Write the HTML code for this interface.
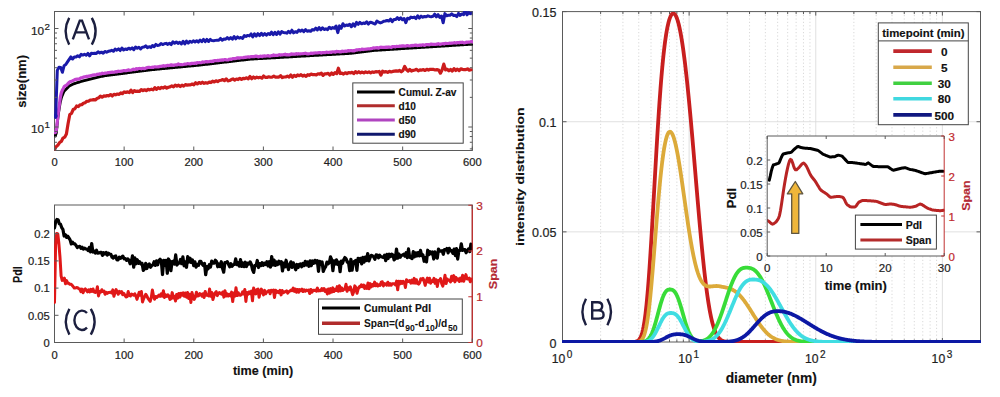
<!DOCTYPE html>
<html><head><meta charset="utf-8"><style>
html,body{margin:0;padding:0;background:#fff;}
svg{display:block;font-family:"Liberation Sans", sans-serif;}
</style></head><body>
<svg width="1000" height="397" viewBox="0 0 1000 397">
<rect width="1000" height="397" fill="#fff"/>
<defs><clipPath id="clipA"><rect x="54" y="11" width="419" height="140"/></clipPath><clipPath id="clipC"><rect x="54" y="204" width="419" height="139"/></clipPath><clipPath id="clipB"><rect x="562" y="12" width="419" height="331"/></clipPath><clipPath id="clipI"><rect x="767" y="135.5" width="177.5" height="121"/></clipPath></defs>
<rect x="54.50" y="11.50" width="417.80" height="139.00" fill="none" stroke="#5a5a5a" stroke-width="1"/>
<g clip-path="url(#clipA)">
<polyline points="55.30,136.00 56.30,133.00 57.30,123.00 58.30,114.66 59.30,107.98 60.30,102.10 61.30,98.10 62.30,95.35 63.30,92.91 64.30,90.90 65.30,89.90 66.30,88.90 67.30,87.90 68.30,86.90 69.30,86.05 70.30,85.55 71.30,85.05 72.30,84.55 73.30,84.05 74.30,83.61 75.30,83.30 76.30,82.99 77.30,82.68 78.30,82.37 79.30,82.06 80.30,81.75 81.30,81.44 82.30,81.13 83.30,80.82 84.30,80.52 85.30,80.27 86.30,80.02 87.30,79.77 88.30,79.52 89.30,79.27 90.30,79.02 91.30,78.77 92.30,78.52 93.30,78.27 94.30,78.03 95.30,77.81 96.30,77.59 97.30,77.37 98.30,77.15 99.30,76.93 100.30,76.71 101.30,76.49 102.30,76.27 103.30,76.05 104.30,75.86 105.30,75.73 106.30,75.60 107.30,75.47 108.30,75.34 109.30,75.21 110.30,75.08 111.30,74.95 112.30,74.82 113.30,74.69 114.30,74.56 115.30,74.43 116.30,74.30 117.30,74.17 118.30,74.03 119.30,73.90 120.30,73.77 121.30,73.64 122.30,73.51 123.30,73.38 124.30,73.25 125.30,73.12 126.30,72.99 127.30,72.86 128.30,72.73 129.30,72.60 130.30,72.47 131.30,72.34 132.30,72.21 133.30,72.08 134.30,71.95 135.30,71.82 136.30,71.69 137.30,71.56 138.30,71.43 139.30,71.30 140.30,71.17 141.30,71.03 142.30,70.90 143.30,70.77 144.30,70.64 145.30,70.51 146.30,70.38 147.30,70.25 148.30,70.12 149.30,69.99 150.30,69.87 151.30,69.78 152.30,69.68 153.30,69.58 154.30,69.49 155.30,69.39 156.30,69.30 157.30,69.20 158.30,69.10 159.30,69.01 160.30,68.91 161.30,68.82 162.30,68.72 163.30,68.62 164.30,68.53 165.30,68.43 166.30,68.34 167.30,68.24 168.30,68.14 169.30,68.05 170.30,67.95 171.30,67.86 172.30,67.76 173.30,67.66 174.30,67.57 175.30,67.47 176.30,67.38 177.30,67.28 178.30,67.18 179.30,67.09 180.30,66.99 181.30,66.90 182.30,66.80 183.30,66.70 184.30,66.61 185.30,66.51 186.30,66.42 187.30,66.32 188.30,66.22 189.30,66.13 190.30,66.03 191.30,65.94 192.30,65.84 193.30,65.74 194.30,65.65 195.30,65.55 196.30,65.46 197.30,65.36 198.30,65.26 199.30,65.17 200.30,65.06 201.30,64.95 202.30,64.83 203.30,64.71 204.30,64.59 205.30,64.47 206.30,64.36 207.30,64.24 208.30,64.12 209.30,64.00 210.30,63.88 211.30,63.77 212.30,63.65 213.30,63.53 214.30,63.41 215.30,63.29 216.30,63.18 217.30,63.06 218.30,62.94 219.30,62.82 220.30,62.70 221.30,62.59 222.30,62.47 223.30,62.35 224.30,62.23 225.30,62.11 226.30,62.00 227.30,61.88 228.30,61.76 229.30,61.64 230.30,61.52 231.30,61.41 232.30,61.29 233.30,61.17 234.30,61.05 235.30,60.93 236.30,60.82 237.30,60.70 238.30,60.58 239.30,60.46 240.30,60.34 241.30,60.23 242.30,60.11 243.30,59.99 244.30,59.87 245.30,59.75 246.30,59.64 247.30,59.52 248.30,59.40 249.30,59.28 250.30,59.18 251.30,59.12 252.30,59.07 253.30,59.01 254.30,58.95 255.30,58.89 256.30,58.83 257.30,58.78 258.30,58.72 259.30,58.66 260.30,58.60 261.30,58.54 262.30,58.49 263.30,58.43 264.30,58.37 265.30,58.31 266.30,58.25 267.30,58.20 268.30,58.14 269.30,58.08 270.30,58.02 271.30,57.96 272.30,57.91 273.30,57.85 274.30,57.79 275.30,57.73 276.30,57.67 277.30,57.62 278.30,57.56 279.30,57.50 280.30,57.44 281.30,57.38 282.30,57.33 283.30,57.27 284.30,57.21 285.30,57.15 286.30,57.09 287.30,57.04 288.30,56.98 289.30,56.92 290.30,56.86 291.30,56.80 292.30,56.75 293.30,56.69 294.30,56.63 295.30,56.57 296.30,56.51 297.30,56.46 298.30,56.40 299.30,56.34 300.30,56.28 301.30,56.22 302.30,56.17 303.30,56.11 304.30,56.05 305.30,55.99 306.30,55.93 307.30,55.88 308.30,55.82 309.30,55.76 310.30,55.70 311.30,55.64 312.30,55.59 313.30,55.53 314.30,55.47 315.30,55.41 316.30,55.35 317.30,55.30 318.30,55.24 319.30,55.18 320.30,55.12 321.30,55.06 322.30,55.01 323.30,54.95 324.30,54.89 325.30,54.83 326.30,54.77 327.30,54.72 328.30,54.66 329.30,54.60 330.30,54.54 331.30,54.48 332.30,54.43 333.30,54.37 334.30,54.31 335.30,54.25 336.30,54.19 337.30,54.14 338.30,54.08 339.30,54.02 340.30,53.96 341.30,53.90 342.30,53.85 343.30,53.79 344.30,53.73 345.30,53.67 346.30,53.61 347.30,53.56 348.30,53.50 349.30,53.44 350.30,53.36 351.30,53.24 352.30,53.12 353.30,53.00 354.30,52.88 355.30,52.76 356.30,52.64 357.30,52.52 358.30,52.40 359.30,52.28 360.30,52.16 361.30,52.04 362.30,51.92 363.30,51.80 364.30,51.68 365.30,51.56 366.30,51.44 367.30,51.32 368.30,51.20 369.30,51.08 370.30,50.96 371.30,50.84 372.30,50.72 373.30,50.60 374.30,50.48 375.30,50.38 376.30,50.32 377.30,50.25 378.30,50.19 379.30,50.13 380.30,50.06 381.30,50.00 382.30,49.93 383.30,49.87 384.30,49.81 385.30,49.74 386.30,49.68 387.30,49.62 388.30,49.55 389.30,49.49 390.30,49.43 391.30,49.36 392.30,49.30 393.30,49.23 394.30,49.17 395.30,49.11 396.30,49.04 397.30,48.98 398.30,48.92 399.30,48.85 400.30,48.79 401.30,48.72 402.30,48.66 403.30,48.60 404.30,48.53 405.30,48.47 406.30,48.41 407.30,48.34 408.30,48.28 409.30,48.21 410.30,48.15 411.30,48.09 412.30,48.02 413.30,47.96 414.30,47.90 415.30,47.83 416.30,47.77 417.30,47.70 418.30,47.64 419.30,47.58 420.30,47.51 421.30,47.45 422.30,47.39 423.30,47.32 424.30,47.26 425.30,47.19 426.30,47.13 427.30,47.07 428.30,47.00 429.30,46.94 430.30,46.88 431.30,46.81 432.30,46.75 433.30,46.69 434.30,46.62 435.30,46.56 436.30,46.49 437.30,46.43 438.30,46.37 439.30,46.30 440.30,46.24 441.30,46.18 442.30,46.11 443.30,46.05 444.30,45.98 445.30,45.92 446.30,45.86 447.30,45.79 448.30,45.73 449.30,45.67 450.30,45.60 451.30,45.54 452.30,45.47 453.30,45.41 454.30,45.35 455.30,45.28 456.30,45.22 457.30,45.16 458.30,45.09 459.30,45.03 460.30,44.96 461.30,44.90 462.30,44.84 463.30,44.77 464.30,44.71 465.30,44.65 466.30,44.58 467.30,44.52 468.30,44.45 469.30,44.39 470.30,44.33 471.30,44.26 472.30,44.20" fill="none" stroke="#000000" stroke-width="2.8" stroke-linejoin="round" stroke-linecap="round" />
<polyline points="54.50,149.07 56.20,146.69 57.90,145.07 59.60,142.53 61.30,141.40 63.00,138.08 64.70,137.15 66.40,133.94 68.10,123.53 69.80,114.55 71.50,113.37 73.20,109.52 74.90,108.74 76.60,105.99 78.30,106.54 80.00,104.86 81.70,104.73 83.40,103.21 85.10,102.66 86.80,101.32 88.50,101.23 90.20,100.04 91.90,100.02 93.60,99.59 95.30,99.91 97.00,98.46 98.70,97.86 100.40,96.09 102.10,97.24 103.80,95.94 105.50,96.27 107.20,95.48 108.90,95.83 110.60,94.57 112.30,95.97 114.00,94.25 115.70,94.81 117.40,94.04 119.10,94.40 120.80,92.86 122.50,93.70 124.20,91.95 125.90,92.38 127.60,91.91 129.30,92.54 131.00,90.11 132.70,92.59 134.40,90.56 136.10,91.49 137.80,91.15 139.50,91.51 141.20,89.57 142.90,90.70 144.60,89.78 146.30,90.70 148.00,89.27 149.70,89.87 151.40,89.19 153.10,89.89 154.80,87.59 156.50,89.33 158.20,87.73 159.90,88.64 161.60,87.39 163.30,88.03 165.00,86.78 166.70,88.12 168.40,87.24 170.10,86.87 171.80,85.95 173.50,86.84 175.20,85.17 176.90,86.21 178.60,85.18 180.30,86.52 182.00,85.18 183.70,86.16 185.40,84.62 187.10,85.15 188.80,84.82 190.50,84.84 192.20,84.01 193.90,84.85 195.60,82.74 197.30,83.97 199.00,82.57 200.70,83.37 202.40,82.23 204.10,83.34 205.80,82.66 207.50,83.18 209.20,82.16 210.90,82.55 212.60,81.15 214.30,82.00 216.00,80.81 217.70,81.55 219.40,80.50 221.10,80.23 222.80,79.56 224.50,80.67 226.20,78.86 227.90,80.82 229.60,80.54 231.30,79.57 233.00,78.95 234.70,80.03 236.40,79.00 238.10,79.54 239.80,78.27 241.50,79.44 243.20,78.35 244.90,78.59 246.60,77.82 248.30,78.80 250.00,76.54 251.70,78.69 253.40,77.02 255.10,78.21 256.80,77.21 258.50,77.80 260.20,77.30 261.90,78.21 263.60,75.97 265.30,77.37 267.00,77.43 268.70,76.77 270.40,77.25 272.10,77.09 273.80,76.19 275.50,77.19 277.20,76.98 278.90,77.03 280.60,75.69 282.30,77.59 284.00,77.00 285.70,76.95 287.40,76.11 289.10,77.00 290.80,74.96 292.50,77.29 294.20,75.39 295.90,76.46 297.60,74.99 299.30,75.75 301.00,74.65 302.70,76.03 304.40,75.23 306.10,76.34 307.80,74.71 309.50,75.30 311.20,74.02 312.90,74.64 314.60,74.48 316.30,75.00 318.00,73.80 319.70,74.23 321.40,73.20 323.10,75.42 324.80,73.73 326.50,73.79 328.20,73.32 329.90,74.99 331.60,73.03 333.30,74.40 335.00,72.59 336.70,73.58 338.40,68.23 340.10,73.58 341.80,73.02 343.50,74.02 345.20,72.77 346.90,73.70 348.60,72.56 350.30,72.93 352.00,72.27 353.70,73.62 355.40,71.68 357.10,72.82 358.80,71.73 360.50,72.89 362.20,72.05 363.90,72.95 365.60,71.84 367.30,72.65 369.00,71.87 370.70,72.83 372.40,71.95 374.10,72.33 375.80,71.63 377.50,71.80 379.20,71.46 380.90,75.16 382.60,71.12 384.30,72.06 386.00,71.59 387.70,72.44 389.40,71.32 391.10,71.93 392.80,71.44 394.50,71.09 396.20,70.83 397.90,71.25 399.60,70.40 401.30,71.79 403.00,70.44 404.70,66.42 406.40,69.54 408.10,71.11 409.80,69.40 411.50,71.03 413.20,70.36 414.90,70.01 416.60,69.29 418.30,70.91 420.00,69.96 421.70,70.03 423.40,69.59 425.10,70.47 426.80,69.34 428.50,70.02 430.20,69.25 431.90,69.35 433.60,69.44 435.30,70.01 437.00,69.66 438.70,69.99 440.40,73.18 442.10,69.90 443.80,64.13 445.50,69.86 447.20,69.27 448.90,70.83 450.60,69.39 452.30,70.99 454.00,68.59 455.70,70.49 457.40,69.06 459.10,70.63 460.80,68.82 462.50,69.39 464.20,69.67 465.90,69.59 467.60,68.86 469.30,70.13 471.00,69.78" fill="none" stroke="#cc1c1c" stroke-width="3.2" stroke-linejoin="round" stroke-linecap="round" />
<polyline points="55.30,132.65 56.30,130.21 57.30,121.65 58.30,112.01 59.30,105.24 60.30,97.66 61.30,92.86 62.30,90.33 63.30,88.53 64.30,86.55 65.30,85.76 66.30,85.43 67.30,84.37 68.30,83.14 69.30,82.23 70.30,81.48 71.30,81.35 72.30,80.94 73.30,80.43 74.30,79.99 75.30,79.43 76.30,79.39 77.30,79.10 78.30,79.13 79.30,78.98 80.30,78.18 81.30,77.72 82.30,77.59 83.30,77.16 84.30,76.85 85.30,76.83 86.30,76.38 87.30,76.59 88.30,76.21 89.30,76.10 90.30,75.79 91.30,75.46 92.30,75.20 93.30,75.18 94.30,74.91 95.30,74.94 96.30,74.71 97.30,74.20 98.30,74.39 99.30,73.86 100.30,73.87 101.30,73.79 102.30,73.17 103.30,73.54 104.30,73.40 105.30,73.19 106.30,72.99 107.30,72.88 108.30,72.59 109.30,72.64 110.30,72.44 111.30,72.47 112.30,72.02 113.30,72.25 114.30,72.09 115.30,71.89 116.30,71.69 117.30,71.80 118.30,71.12 119.30,71.52 120.30,71.33 121.30,71.21 122.30,71.11 123.30,70.72 124.30,70.69 125.30,70.78 126.30,70.60 127.30,70.41 128.30,69.85 129.30,70.23 130.30,70.26 131.30,70.09 132.30,69.77 133.30,69.19 134.30,69.68 135.30,69.28 136.30,68.55 137.30,69.15 138.30,68.55 139.30,68.47 140.30,68.51 141.30,68.85 142.30,68.31 143.30,68.34 144.30,68.58 145.30,68.41 146.30,67.86 147.30,67.69 148.30,67.31 149.30,67.32 150.30,67.48 151.30,67.37 152.30,67.21 153.30,67.33 154.30,66.79 155.30,66.88 156.30,66.98 157.30,66.85 158.30,66.87 159.30,66.61 160.30,66.33 161.30,66.41 162.30,65.97 163.30,65.71 164.30,66.17 165.30,65.92 166.30,65.91 167.30,65.31 168.30,65.55 169.30,65.40 170.30,65.24 171.30,64.79 172.30,65.18 173.30,65.39 174.30,65.16 175.30,64.82 176.30,64.87 177.30,64.97 178.30,63.99 179.30,64.56 180.30,64.63 181.30,64.57 182.30,64.72 183.30,64.49 184.30,64.19 185.30,64.09 186.30,64.11 187.30,63.68 188.30,63.71 189.30,63.85 190.30,64.02 191.30,63.40 192.30,63.33 193.30,63.29 194.30,63.48 195.30,63.04 196.30,63.32 197.30,62.62 198.30,62.72 199.30,62.62 200.30,62.76 201.30,62.71 202.30,61.96 203.30,61.99 204.30,62.19 205.30,61.82 206.30,61.49 207.30,62.01 208.30,61.76 209.30,61.64 210.30,61.29 211.30,61.55 212.30,61.11 213.30,61.33 214.30,60.71 215.30,60.61 216.30,60.76 217.30,60.42 218.30,60.65 219.30,60.43 220.30,60.01 221.30,60.15 222.30,59.93 223.30,60.13 224.30,59.62 225.30,59.56 226.30,59.85 227.30,59.99 228.30,59.82 229.30,59.22 230.30,59.14 231.30,59.35 232.30,58.82 233.30,58.49 234.30,58.65 235.30,58.62 236.30,58.18 237.30,57.86 238.30,57.80 239.30,58.21 240.30,57.74 241.30,57.77 242.30,57.75 243.30,57.73 244.30,57.38 245.30,57.47 246.30,57.01 247.30,57.02 248.30,56.74 249.30,57.16 250.30,56.78 251.30,56.54 252.30,56.58 253.30,56.55 254.30,56.73 255.30,56.09 256.30,56.18 257.30,56.28 258.30,56.95 259.30,56.50 260.30,56.17 261.30,56.32 262.30,56.60 263.30,55.97 264.30,55.88 265.30,56.22 266.30,55.98 267.30,55.96 268.30,55.61 269.30,56.16 270.30,56.05 271.30,55.71 272.30,55.68 273.30,54.94 274.30,55.55 275.30,55.28 276.30,55.38 277.30,55.39 278.30,55.07 279.30,54.68 280.30,55.13 281.30,54.80 282.30,54.84 283.30,54.72 284.30,54.73 285.30,54.18 286.30,55.00 287.30,54.70 288.30,54.86 289.30,55.02 290.30,54.47 291.30,53.95 292.30,54.12 293.30,53.99 294.30,54.11 295.30,54.19 296.30,53.61 297.30,54.14 298.30,53.62 299.30,54.01 300.30,53.86 301.30,53.75 302.30,53.75 303.30,53.57 304.30,53.50 305.30,53.17 306.30,53.53 307.30,53.94 308.30,53.91 309.30,53.69 310.30,53.48 311.30,53.08 312.30,53.55 313.30,53.11 314.30,53.05 315.30,52.94 316.30,52.98 317.30,52.79 318.30,52.82 319.30,52.51 320.30,52.63 321.30,53.23 322.30,52.59 323.30,52.49 324.30,52.62 325.30,52.61 326.30,52.10 327.30,52.26 328.30,52.49 329.30,52.27 330.30,52.17 331.30,52.47 332.30,51.86 333.30,51.99 334.30,51.78 335.30,52.23 336.30,51.31 337.30,51.57 338.30,51.55 339.30,51.79 340.30,51.71 341.30,51.85 342.30,51.05 343.30,51.58 344.30,51.26 345.30,51.11 346.30,51.35 347.30,50.93 348.30,50.58 349.30,50.95 350.30,50.59 351.30,50.68 352.30,50.82 353.30,50.68 354.30,50.88 355.30,50.31 356.30,49.86 357.30,49.93 358.30,49.77 359.30,49.58 360.30,49.87 361.30,49.48 362.30,49.03 363.30,49.58 364.30,49.26 365.30,49.25 366.30,49.07 367.30,49.08 368.30,48.81 369.30,48.99 370.30,48.67 371.30,48.54 372.30,48.43 373.30,47.84 374.30,48.04 375.30,47.92 376.30,47.97 377.30,47.51 378.30,48.20 379.30,47.75 380.30,47.36 381.30,47.17 382.30,47.46 383.30,47.45 384.30,47.23 385.30,47.37 386.30,47.12 387.30,47.35 388.30,46.97 389.30,47.08 390.30,47.27 391.30,47.60 392.30,46.65 393.30,46.72 394.30,46.56 395.30,46.90 396.30,46.36 397.30,46.46 398.30,46.51 399.30,46.21 400.30,46.15 401.30,46.21 402.30,45.74 403.30,45.84 404.30,46.03 405.30,46.11 406.30,45.96 407.30,45.50 408.30,45.76 409.30,46.01 410.30,45.89 411.30,45.67 412.30,45.40 413.30,45.72 414.30,45.35 415.30,45.14 416.30,45.17 417.30,45.67 418.30,45.30 419.30,45.47 420.30,44.99 421.30,45.28 422.30,44.84 423.30,44.88 424.30,45.48 425.30,44.99 426.30,44.61 427.30,44.65 428.30,44.69 429.30,44.84 430.30,44.35 431.30,43.98 432.30,44.28 433.30,44.29 434.30,44.25 435.30,44.49 436.30,44.17 437.30,44.23 438.30,43.69 439.30,44.12 440.30,44.36 441.30,43.97 442.30,43.78 443.30,43.69 444.30,44.03 445.30,43.29 446.30,43.43 447.30,43.51 448.30,43.52 449.30,43.16 450.30,43.28 451.30,43.07 452.30,43.10 453.30,42.98 454.30,42.66 455.30,42.88 456.30,43.04 457.30,42.51 458.30,42.63 459.30,42.79 460.30,42.30 461.30,42.55 462.30,42.17 463.30,42.66 464.30,42.89 465.30,42.75 466.30,42.13 467.30,42.30 468.30,42.09 469.30,42.02 470.30,42.31 471.30,41.53 472.30,42.06" fill="none" stroke="#c444d0" stroke-width="3.2" stroke-linejoin="round" stroke-linecap="round" />
<polyline points="55.60,117.45 57.30,70.42 59.00,67.15 60.70,67.41 62.40,72.32 64.10,65.70 65.80,64.57 67.50,61.89 69.20,59.35 70.90,56.91 72.60,58.97 74.30,56.94 76.00,56.99 77.70,55.76 79.40,56.81 81.10,54.32 82.80,55.10 84.50,54.22 86.20,55.25 87.90,53.45 89.60,55.86 91.30,53.26 93.00,53.47 94.70,53.24 96.40,53.45 98.10,51.84 99.80,52.93 101.50,52.14 103.20,53.19 104.90,51.45 106.60,52.26 108.30,51.33 110.00,51.07 111.70,50.24 113.40,51.31 115.10,49.03 116.80,50.15 118.50,48.81 120.20,50.54 121.90,48.00 123.60,50.05 125.30,48.98 127.00,49.44 128.70,48.16 130.40,49.15 132.10,47.91 133.80,49.66 135.50,47.08 137.20,48.24 138.90,47.18 140.60,48.96 142.30,47.19 144.00,47.09 145.70,45.88 147.40,47.62 149.10,46.70 150.80,47.46 152.50,45.46 154.20,46.71 155.90,44.39 157.60,45.53 159.30,45.12 161.00,43.56 162.70,44.53 164.40,43.75 166.10,43.36 167.80,44.39 169.50,43.19 171.20,44.55 172.90,41.84 174.60,43.23 176.30,41.94 178.00,43.39 179.70,42.32 181.40,43.98 183.10,41.36 184.80,43.91 186.50,41.15 188.20,43.10 189.90,41.32 191.60,42.29 193.30,40.86 195.00,42.03 196.70,40.75 198.40,42.12 200.10,40.08 201.80,41.63 203.50,39.40 205.20,41.69 206.90,39.39 208.60,41.48 210.30,39.42 212.00,40.62 213.70,40.66 215.40,40.38 217.10,40.18 218.80,40.30 220.50,38.46 222.20,40.19 223.90,39.01 225.60,39.29 227.30,37.62 229.00,39.11 230.70,37.66 232.40,39.15 234.10,36.57 235.80,38.84 237.50,36.93 239.20,38.12 240.90,37.48 242.60,38.35 244.30,35.64 246.00,36.44 247.70,35.40 249.40,35.90 251.10,33.91 252.80,36.89 254.50,33.82 256.20,36.07 257.90,33.63 259.60,35.59 261.30,33.29 263.00,35.28 264.70,33.65 266.40,35.19 268.10,33.49 269.80,34.50 271.50,32.19 273.20,34.76 274.90,32.32 276.60,34.46 278.30,31.71 280.00,34.28 281.70,31.57 283.40,32.46 285.10,32.68 286.80,33.18 288.50,31.33 290.20,32.79 291.90,30.20 293.60,32.86 295.30,31.66 297.00,32.40 298.70,30.03 300.40,31.17 302.10,29.97 303.80,31.62 305.50,29.59 307.20,31.32 308.90,30.74 310.60,31.33 312.30,29.63 314.00,30.06 315.70,28.13 317.40,29.92 319.10,27.56 320.80,29.76 322.50,27.81 324.20,29.52 325.90,28.76 327.60,29.67 329.30,27.23 331.00,28.68 332.70,27.59 334.40,28.26 336.10,26.02 337.80,32.61 339.50,25.85 341.20,28.35 342.90,23.76 344.60,26.05 346.30,25.10 348.00,25.40 349.70,24.42 351.40,26.77 353.10,23.81 354.80,26.18 356.50,22.43 358.20,24.29 359.90,22.36 361.60,23.84 363.30,23.06 365.00,23.55 366.70,21.88 368.40,24.11 370.10,22.22 371.80,22.59 373.50,23.35 375.20,24.06 376.90,21.05 378.60,22.20 380.30,22.88 382.00,22.31 383.70,21.26 385.40,20.98 387.10,20.45 388.80,21.04 390.50,19.20 392.20,21.70 393.90,19.48 395.60,19.58 397.30,17.66 399.00,19.44 400.70,17.81 402.40,19.73 404.10,18.48 405.80,22.63 407.50,18.27 409.20,18.88 410.90,17.13 412.60,17.69 414.30,17.13 416.00,18.54 417.70,15.85 419.40,18.08 421.10,16.12 422.80,17.27 424.50,16.42 426.20,16.77 427.90,15.85 429.60,16.45 431.30,16.69 433.00,16.32 434.70,14.10 436.40,16.84 438.10,14.69 439.80,17.37 441.50,16.02 443.20,22.79 444.90,13.63 446.60,15.79 448.30,15.29 450.00,15.22 451.70,13.91 453.40,15.45 455.10,15.32 456.80,16.60 458.50,13.34 460.20,15.45 461.90,13.97 463.60,14.70 465.30,9.06 467.00,14.92 468.70,12.58 470.40,13.70 472.10,13.02" fill="none" stroke="#1a1aaa" stroke-width="3.0" stroke-linejoin="round" stroke-linecap="round" />
<circle cx="55.6" cy="116" r="2.1" fill="#1a1aaa"/>
</g>
<line x1="54.50" y1="150.50" x2="54.50" y2="146.50" stroke="#5a5a5a" stroke-width="1" />
<line x1="54.50" y1="11.50" x2="54.50" y2="15.50" stroke="#5a5a5a" stroke-width="1" />
<text x="54.50" y="162.20" font-size="11.2" text-anchor="middle" font-weight="normal" fill="#1e1e1e" stroke="#1e1e1e" stroke-width="0.22" dominant-baseline="central" >0</text>
<line x1="124.13" y1="150.50" x2="124.13" y2="146.50" stroke="#5a5a5a" stroke-width="1" />
<line x1="124.13" y1="11.50" x2="124.13" y2="15.50" stroke="#5a5a5a" stroke-width="1" />
<text x="124.13" y="162.20" font-size="11.2" text-anchor="middle" font-weight="normal" fill="#1e1e1e" stroke="#1e1e1e" stroke-width="0.22" dominant-baseline="central" >100</text>
<line x1="193.77" y1="150.50" x2="193.77" y2="146.50" stroke="#5a5a5a" stroke-width="1" />
<line x1="193.77" y1="11.50" x2="193.77" y2="15.50" stroke="#5a5a5a" stroke-width="1" />
<text x="193.77" y="162.20" font-size="11.2" text-anchor="middle" font-weight="normal" fill="#1e1e1e" stroke="#1e1e1e" stroke-width="0.22" dominant-baseline="central" >200</text>
<line x1="263.40" y1="150.50" x2="263.40" y2="146.50" stroke="#5a5a5a" stroke-width="1" />
<line x1="263.40" y1="11.50" x2="263.40" y2="15.50" stroke="#5a5a5a" stroke-width="1" />
<text x="263.40" y="162.20" font-size="11.2" text-anchor="middle" font-weight="normal" fill="#1e1e1e" stroke="#1e1e1e" stroke-width="0.22" dominant-baseline="central" >300</text>
<line x1="333.03" y1="150.50" x2="333.03" y2="146.50" stroke="#5a5a5a" stroke-width="1" />
<line x1="333.03" y1="11.50" x2="333.03" y2="15.50" stroke="#5a5a5a" stroke-width="1" />
<text x="333.03" y="162.20" font-size="11.2" text-anchor="middle" font-weight="normal" fill="#1e1e1e" stroke="#1e1e1e" stroke-width="0.22" dominant-baseline="central" >400</text>
<line x1="402.67" y1="150.50" x2="402.67" y2="146.50" stroke="#5a5a5a" stroke-width="1" />
<line x1="402.67" y1="11.50" x2="402.67" y2="15.50" stroke="#5a5a5a" stroke-width="1" />
<text x="402.67" y="162.20" font-size="11.2" text-anchor="middle" font-weight="normal" fill="#1e1e1e" stroke="#1e1e1e" stroke-width="0.22" dominant-baseline="central" >500</text>
<line x1="472.30" y1="150.50" x2="472.30" y2="146.50" stroke="#5a5a5a" stroke-width="1" />
<line x1="472.30" y1="11.50" x2="472.30" y2="15.50" stroke="#5a5a5a" stroke-width="1" />
<text x="472.30" y="162.20" font-size="11.2" text-anchor="middle" font-weight="normal" fill="#1e1e1e" stroke="#1e1e1e" stroke-width="0.22" dominant-baseline="central" >600</text>
<line x1="54.50" y1="127.00" x2="58.50" y2="127.00" stroke="#5a5a5a" stroke-width="1" />
<line x1="472.30" y1="127.00" x2="468.30" y2="127.00" stroke="#5a5a5a" stroke-width="1" />
<line x1="54.50" y1="28.50" x2="58.50" y2="28.50" stroke="#5a5a5a" stroke-width="1" />
<line x1="472.30" y1="28.50" x2="468.30" y2="28.50" stroke="#5a5a5a" stroke-width="1" />
<line x1="54.50" y1="148.85" x2="57.00" y2="148.85" stroke="#5a5a5a" stroke-width="1" />
<line x1="472.30" y1="148.85" x2="469.80" y2="148.85" stroke="#5a5a5a" stroke-width="1" />
<line x1="54.50" y1="142.26" x2="57.00" y2="142.26" stroke="#5a5a5a" stroke-width="1" />
<line x1="472.30" y1="142.26" x2="469.80" y2="142.26" stroke="#5a5a5a" stroke-width="1" />
<line x1="54.50" y1="136.55" x2="57.00" y2="136.55" stroke="#5a5a5a" stroke-width="1" />
<line x1="472.30" y1="136.55" x2="469.80" y2="136.55" stroke="#5a5a5a" stroke-width="1" />
<line x1="54.50" y1="131.51" x2="57.00" y2="131.51" stroke="#5a5a5a" stroke-width="1" />
<line x1="472.30" y1="131.51" x2="469.80" y2="131.51" stroke="#5a5a5a" stroke-width="1" />
<line x1="54.50" y1="97.35" x2="57.00" y2="97.35" stroke="#5a5a5a" stroke-width="1" />
<line x1="472.30" y1="97.35" x2="469.80" y2="97.35" stroke="#5a5a5a" stroke-width="1" />
<line x1="54.50" y1="80.00" x2="57.00" y2="80.00" stroke="#5a5a5a" stroke-width="1" />
<line x1="472.30" y1="80.00" x2="469.80" y2="80.00" stroke="#5a5a5a" stroke-width="1" />
<line x1="54.50" y1="67.70" x2="57.00" y2="67.70" stroke="#5a5a5a" stroke-width="1" />
<line x1="472.30" y1="67.70" x2="469.80" y2="67.70" stroke="#5a5a5a" stroke-width="1" />
<line x1="54.50" y1="58.15" x2="57.00" y2="58.15" stroke="#5a5a5a" stroke-width="1" />
<line x1="472.30" y1="58.15" x2="469.80" y2="58.15" stroke="#5a5a5a" stroke-width="1" />
<line x1="54.50" y1="50.35" x2="57.00" y2="50.35" stroke="#5a5a5a" stroke-width="1" />
<line x1="472.30" y1="50.35" x2="469.80" y2="50.35" stroke="#5a5a5a" stroke-width="1" />
<line x1="54.50" y1="43.76" x2="57.00" y2="43.76" stroke="#5a5a5a" stroke-width="1" />
<line x1="472.30" y1="43.76" x2="469.80" y2="43.76" stroke="#5a5a5a" stroke-width="1" />
<line x1="54.50" y1="38.05" x2="57.00" y2="38.05" stroke="#5a5a5a" stroke-width="1" />
<line x1="472.30" y1="38.05" x2="469.80" y2="38.05" stroke="#5a5a5a" stroke-width="1" />
<line x1="54.50" y1="33.01" x2="57.00" y2="33.01" stroke="#5a5a5a" stroke-width="1" />
<line x1="472.30" y1="33.01" x2="469.80" y2="33.01" stroke="#5a5a5a" stroke-width="1" />
<text x="44.20" y="30.60" font-size="11.8" text-anchor="end" font-weight="normal" fill="#1e1e1e" stroke="#1e1e1e" stroke-width="0.22" dominant-baseline="central" >10</text>
<text x="44.60" y="26.20" font-size="9.8" text-anchor="start" font-weight="normal" fill="#1e1e1e" stroke="#1e1e1e" stroke-width="0.22" dominant-baseline="central" >2</text>
<text x="44.20" y="129.00" font-size="11.8" text-anchor="end" font-weight="normal" fill="#1e1e1e" stroke="#1e1e1e" stroke-width="0.22" dominant-baseline="central" >10</text>
<text x="44.60" y="124.60" font-size="9.8" text-anchor="start" font-weight="normal" fill="#1e1e1e" stroke="#1e1e1e" stroke-width="0.22" dominant-baseline="central" >1</text>
<text x="21.40" y="81.40" font-size="13" text-anchor="middle" font-weight="bold" fill="#111" stroke="#111" stroke-width="0.15" dominant-baseline="central" transform="rotate(-90 21.40 81.40)" >size(nm)</text>
<path d="M69.2,17.9 Q62.0,31.2 69.2,44.6 M72.8,39.3 L79.8,20.6 L82.0,20.6 L89.0,39.3 M75.4,32.4 L86.4,32.4 M91.8,17.9 Q99.4,31.2 91.8,44.6" fill="none" stroke="#1c1f3f" stroke-width="2.4" stroke-linejoin="miter"/>
<rect x="352.80" y="82.90" width="110.40" height="60.30" fill="#fff" stroke="#444" stroke-width="1"/>
<line x1="357.00" y1="92.00" x2="394.80" y2="92.00" stroke="#000" stroke-width="3.0" />
<text x="398.60" y="92.30" font-size="10.1" text-anchor="start" font-weight="bold" fill="#111" stroke="#111" stroke-width="0.15" dominant-baseline="central" >Cumul. Z-av</text>
<line x1="357.00" y1="105.80" x2="394.80" y2="105.80" stroke="#b02c2c" stroke-width="3.0" />
<text x="398.60" y="106.10" font-size="10.1" text-anchor="start" font-weight="bold" fill="#111" stroke="#111" stroke-width="0.15" dominant-baseline="central" >d10</text>
<line x1="357.00" y1="119.90" x2="394.80" y2="119.90" stroke="#b044c0" stroke-width="3.0" />
<text x="398.60" y="120.20" font-size="10.1" text-anchor="start" font-weight="bold" fill="#111" stroke="#111" stroke-width="0.15" dominant-baseline="central" >d50</text>
<line x1="357.00" y1="134.20" x2="394.80" y2="134.20" stroke="#10186e" stroke-width="3.0" />
<text x="398.60" y="134.50" font-size="10.1" text-anchor="start" font-weight="bold" fill="#111" stroke="#111" stroke-width="0.15" dominant-baseline="central" >d90</text>
<rect x="54.50" y="205.00" width="417.80" height="137.50" fill="none" stroke="#5a5a5a" stroke-width="1"/>
<line x1="472.30" y1="205.00" x2="472.30" y2="342.50" stroke="#c03030" stroke-width="1" />
<g clip-path="url(#clipC)">
<polyline points="54.50,302.53 55.60,245.42 56.70,233.46 57.80,233.88 58.90,243.77 60.00,257.43 61.10,275.83 62.20,280.38 63.30,279.72 64.40,278.15 65.50,283.74 66.60,280.63 67.70,283.16 68.80,283.34 69.90,284.32 71.00,284.22 72.10,285.24 73.20,286.60 74.30,287.93 75.40,288.02 76.50,287.48 77.60,287.70 78.70,288.73 79.80,288.93 80.90,291.61 82.00,289.04 83.10,292.79 84.20,289.93 85.30,288.95 86.40,290.39 87.50,291.83 88.60,289.83 89.70,291.89 90.80,289.34 91.90,291.41 93.00,288.94 94.10,291.89 95.20,292.45 96.30,292.17 97.40,286.73 98.50,295.94 99.60,291.58 100.70,292.29 101.80,289.72 102.90,291.53 104.00,290.96 105.10,294.29 106.20,292.29 107.30,293.35 108.40,292.47 109.50,292.46 110.60,292.07 111.70,293.03 112.80,289.90 113.90,296.34 115.00,292.61 116.10,289.55 117.20,292.22 118.30,294.29 119.40,291.30 120.50,292.66 121.60,291.56 122.70,294.65 123.80,293.31 124.90,295.45 126.00,296.97 127.10,296.63 128.20,291.57 129.30,295.50 130.40,295.99 131.50,293.95 132.60,294.65 133.70,295.25 134.80,293.81 135.90,295.97 137.00,299.37 138.10,295.76 139.20,292.30 140.30,295.24 141.40,291.56 142.50,301.93 143.60,298.79 144.70,296.38 145.80,294.23 146.90,296.01 148.00,298.43 149.10,299.89 150.20,301.40 151.30,297.47 152.40,289.93 153.50,295.91 154.60,299.26 155.70,296.44 156.80,297.48 157.90,296.38 159.00,294.98 160.10,296.31 161.20,293.71 162.30,296.07 163.40,290.75 164.50,297.41 165.60,294.90 166.70,296.43 167.80,294.84 168.90,296.09 170.00,299.41 171.10,298.63 172.20,292.64 173.30,298.05 174.40,296.25 175.50,300.99 176.60,294.46 177.70,298.11 178.80,293.41 179.90,297.17 181.00,293.20 182.10,295.10 183.20,292.85 184.30,296.22 185.40,292.97 186.50,297.19 187.60,292.51 188.70,298.43 189.80,294.34 190.90,302.46 192.00,292.52 193.10,296.55 194.20,299.36 195.30,297.04 196.40,292.29 197.50,295.96 198.60,295.70 199.70,293.57 200.80,294.05 201.90,296.10 203.00,293.70 204.10,297.53 205.20,291.49 206.30,295.17 207.40,294.99 208.50,295.95 209.60,289.02 210.70,296.35 211.80,292.54 212.90,299.52 214.00,295.81 215.10,292.89 216.20,291.65 217.30,295.61 218.40,293.37 219.50,292.56 220.60,293.60 221.70,294.21 222.80,291.97 223.90,297.12 225.00,290.74 226.10,295.93 227.20,293.89 228.30,296.05 229.40,294.29 230.50,296.03 231.60,292.10 232.70,301.52 233.80,292.92 234.90,296.20 236.00,287.72 237.10,295.60 238.20,292.69 239.30,295.01 240.40,295.24 241.50,294.47 242.60,291.82 243.70,293.98 244.80,289.50 245.90,301.40 247.00,292.51 248.10,294.27 249.20,291.90 250.30,293.57 251.40,291.06 252.50,300.86 253.60,288.01 254.70,290.91 255.80,293.96 256.90,289.63 258.00,289.13 259.10,297.27 260.20,291.97 261.30,289.09 262.40,292.31 263.50,294.86 264.60,290.40 265.70,293.76 266.80,291.96 267.90,291.35 269.00,290.59 270.10,293.73 271.20,290.18 272.30,291.17 273.40,289.97 274.50,297.43 275.60,290.27 276.70,292.47 277.80,291.39 278.90,292.68 280.00,290.27 281.10,294.85 282.20,290.54 283.30,292.78 284.40,291.85 285.50,291.84 286.60,290.76 287.70,293.08 288.80,291.78 289.90,291.04 291.00,290.03 292.10,290.77 293.20,288.07 294.30,291.36 295.40,289.09 296.50,292.22 297.60,289.48 298.70,292.28 299.80,289.61 300.90,290.67 302.00,289.18 303.10,291.55 304.20,289.82 305.30,291.22 306.40,289.95 307.50,290.55 308.60,290.06 309.70,293.49 310.80,289.48 311.90,292.23 313.00,290.15 314.10,290.48 315.20,290.24 316.30,291.19 317.40,288.07 318.50,290.87 319.60,290.61 320.70,290.72 321.80,288.69 322.90,290.33 324.00,288.58 325.10,291.41 326.20,289.71 327.30,293.96 328.40,289.08 329.50,293.10 330.60,288.65 331.70,292.11 332.80,287.88 333.90,291.49 335.00,289.31 336.10,290.53 337.20,286.62 338.30,291.27 339.40,285.67 340.50,290.89 341.60,287.81 342.70,290.52 343.80,289.02 344.90,289.16 346.00,284.23 347.10,291.26 348.20,287.67 349.30,289.59 350.40,286.91 351.50,290.57 352.60,294.70 353.70,291.67 354.80,285.89 355.90,287.55 357.00,293.23 358.10,289.20 359.20,286.84 360.30,286.97 361.40,284.80 362.50,286.63 363.60,285.06 364.70,288.51 365.80,286.00 366.90,288.49 368.00,283.00 369.10,288.77 370.20,283.61 371.30,286.95 372.40,284.52 373.50,285.80 374.60,282.16 375.70,285.81 376.80,283.90 377.90,285.95 379.00,284.73 380.10,285.48 381.20,282.13 382.30,281.80 383.40,285.97 384.50,283.62 385.60,283.96 386.70,285.12 387.80,282.23 388.90,285.25 390.00,283.46 391.10,285.32 392.20,283.70 393.30,283.84 394.40,283.86 395.50,284.90 396.60,281.15 397.70,289.72 398.80,281.36 399.90,283.87 401.00,281.26 402.10,283.36 403.20,281.32 404.30,282.30 405.40,287.49 406.50,279.73 407.60,281.64 408.70,281.27 409.80,280.54 410.90,283.15 412.00,280.12 413.10,283.02 414.20,278.37 415.30,283.13 416.40,279.79 417.50,283.38 418.60,284.11 419.70,282.56 420.80,278.71 421.90,279.68 423.00,278.36 424.10,281.02 425.20,285.38 426.30,280.85 427.40,278.03 428.50,282.10 429.60,278.23 430.70,283.21 431.80,280.76 432.90,281.33 434.00,278.37 435.10,283.31 436.20,279.68 437.30,286.49 438.40,280.56 439.50,280.74 440.60,278.52 441.70,283.73 442.80,286.07 443.90,281.83 445.00,275.15 446.10,283.53 447.20,278.99 448.30,280.33 449.40,280.17 450.50,281.92 451.60,276.30 452.70,280.37 453.80,275.60 454.90,281.86 456.00,277.56 457.10,279.86 458.20,278.77 459.30,281.55 460.40,278.16 461.50,280.95 462.60,275.25 463.70,281.20 464.80,277.99 465.90,274.59 467.00,278.95 468.10,278.99 469.20,278.08 470.30,281.81 471.40,279.15" fill="none" stroke="#e01818" stroke-width="3.0" stroke-linejoin="round" stroke-linecap="round" />
<polyline points="54.50,227.88 55.70,221.58 56.90,219.45 58.10,219.72 59.30,223.78 60.50,224.30 61.70,227.52 62.90,229.32 64.10,236.02 65.30,234.67 66.50,237.41 67.70,236.23 68.90,238.01 70.10,239.84 71.30,243.93 72.50,242.11 73.70,243.75 74.90,243.92 76.10,245.47 77.30,247.58 78.50,246.67 79.70,246.29 80.90,248.30 82.10,247.21 83.30,249.09 84.50,248.19 85.70,249.00 86.90,249.03 88.10,250.62 89.30,247.52 90.50,251.84 91.70,243.59 92.90,252.13 94.10,250.86 95.30,253.08 96.50,250.28 97.70,253.17 98.90,252.91 100.10,252.44 101.30,252.44 102.50,255.46 103.70,252.73 104.90,253.96 106.10,252.36 107.30,254.99 108.50,253.24 109.70,254.25 110.90,254.36 112.10,257.28 113.30,258.12 114.50,256.24 115.70,255.98 116.90,259.82 118.10,259.83 119.30,257.29 120.50,258.26 121.70,257.06 122.90,256.13 124.10,258.81 125.30,258.50 126.50,260.40 127.70,258.85 128.90,260.13 130.10,263.83 131.30,261.75 132.50,255.81 133.70,267.21 134.90,257.95 136.10,263.77 137.30,259.75 138.50,263.37 139.70,261.68 140.90,263.88 142.10,263.44 143.30,270.42 144.50,269.03 145.70,263.33 146.90,268.52 148.10,265.11 149.30,263.91 150.50,267.30 151.70,265.52 152.90,264.80 154.10,261.72 155.30,265.42 156.50,260.83 157.70,264.81 158.90,260.65 160.10,259.23 161.30,260.86 162.50,274.52 163.70,260.45 164.90,265.33 166.10,260.27 167.30,273.27 168.50,258.97 169.70,261.05 170.90,270.74 172.10,261.53 173.30,261.20 174.50,264.13 175.70,254.96 176.90,265.02 178.10,263.19 179.30,263.17 180.50,259.43 181.70,263.71 182.90,256.85 184.10,265.81 185.30,261.87 186.50,267.29 187.70,256.65 188.90,262.04 190.10,258.21 191.30,262.45 192.50,260.04 193.70,265.61 194.90,261.85 196.10,267.07 197.30,264.38 198.50,265.39 199.70,261.36 200.90,261.40 202.10,263.96 203.30,265.50 204.50,263.38 205.70,274.74 206.90,266.68 208.10,268.88 209.30,264.73 210.50,266.97 211.70,261.07 212.90,262.82 214.10,263.11 215.30,260.28 216.50,261.37 217.70,266.77 218.90,263.88 220.10,266.60 221.30,261.68 222.50,268.24 223.70,272.21 224.90,262.50 226.10,262.49 227.30,261.65 228.50,264.38 229.70,266.80 230.90,263.67 232.10,266.32 233.30,264.75 234.50,264.52 235.70,258.78 236.90,264.61 238.10,262.61 239.30,266.13 240.50,259.58 241.70,266.50 242.90,262.93 244.10,266.68 245.30,262.18 246.50,266.50 247.70,263.16 248.90,263.98 250.10,261.82 251.30,264.19 252.50,269.58 253.70,272.45 254.90,265.32 256.10,265.36 257.30,260.49 258.50,267.52 259.70,263.57 260.90,265.54 262.10,262.69 263.30,265.31 264.50,263.10 265.70,264.55 266.90,261.66 268.10,265.97 269.30,261.74 270.50,267.06 271.70,256.50 272.90,265.04 274.10,260.04 275.30,265.41 276.50,261.98 277.70,264.49 278.90,261.27 280.10,263.92 281.30,261.57 282.50,270.98 283.70,263.15 284.90,266.88 286.10,260.24 287.30,265.60 288.50,269.59 289.70,264.71 290.90,261.80 292.10,267.46 293.30,262.84 294.50,266.00 295.70,269.79 296.90,264.45 298.10,267.56 299.30,264.50 300.50,263.88 301.70,266.83 302.90,263.51 304.10,265.54 305.30,261.29 306.50,265.05 307.70,261.94 308.90,266.28 310.10,260.92 311.30,265.64 312.50,260.99 313.70,263.27 314.90,260.29 316.10,262.87 317.30,260.55 318.50,271.39 319.70,261.46 320.90,264.46 322.10,262.03 323.30,271.48 324.50,268.44 325.70,266.57 326.90,262.06 328.10,263.94 329.30,262.73 330.50,256.79 331.70,259.64 332.90,270.73 334.10,260.94 335.30,264.07 336.50,259.79 337.70,264.43 338.90,262.11 340.10,271.73 341.30,261.04 342.50,263.31 343.70,259.78 344.90,257.54 346.10,258.88 347.30,262.08 348.50,262.20 349.70,270.70 350.90,259.28 352.10,270.22 353.30,262.20 354.50,261.50 355.70,260.46 356.90,270.43 358.10,258.27 359.30,261.45 360.50,258.31 361.70,263.96 362.90,257.36 364.10,262.16 365.30,257.13 366.50,260.56 367.70,253.56 368.90,260.98 370.10,257.60 371.30,255.38 372.50,255.70 373.70,257.05 374.90,259.26 376.10,254.88 377.30,255.04 378.50,257.80 379.70,255.22 380.90,256.67 382.10,256.95 383.30,257.37 384.50,255.28 385.70,260.62 386.90,254.25 388.10,258.57 389.30,254.25 390.50,256.65 391.70,254.17 392.90,254.80 394.10,259.89 395.30,258.65 396.50,249.00 397.70,258.19 398.90,254.05 400.10,257.32 401.30,255.39 402.50,255.16 403.70,254.08 404.90,256.05 406.10,252.68 407.30,257.65 408.50,248.86 409.70,257.37 410.90,257.85 412.10,258.51 413.30,251.62 414.50,256.83 415.70,252.82 416.90,256.05 418.10,252.53 419.30,255.93 420.50,250.37 421.70,255.53 422.90,254.91 424.10,261.30 425.30,257.60 426.50,261.93 427.70,250.22 428.90,254.73 430.10,251.74 431.30,253.70 432.50,252.00 433.70,259.03 434.90,251.77 436.10,256.87 437.30,258.16 438.50,249.05 439.70,250.93 440.90,251.18 442.10,250.62 443.30,254.35 444.50,249.54 445.70,249.88 446.90,248.39 448.10,252.85 449.30,248.33 450.50,250.87 451.70,250.61 452.90,253.22 454.10,249.07 455.30,255.58 456.50,248.64 457.70,259.09 458.90,250.59 460.10,250.43 461.30,243.82 462.50,250.40 463.70,249.53 464.90,249.64 466.10,252.73 467.30,250.77 468.50,248.82 469.70,251.65 470.90,244.06 472.10,248.67" fill="none" stroke="#000000" stroke-width="3.2" stroke-linejoin="round" stroke-linecap="round" />
</g>
<line x1="472.30" y1="205.00" x2="472.30" y2="342.50" stroke="#c03030" stroke-width="1" />
<line x1="54.50" y1="342.50" x2="54.50" y2="338.50" stroke="#5a5a5a" stroke-width="1" />
<line x1="54.50" y1="205.00" x2="54.50" y2="209.00" stroke="#5a5a5a" stroke-width="1" />
<text x="54.50" y="354.80" font-size="11.2" text-anchor="middle" font-weight="normal" fill="#1e1e1e" stroke="#1e1e1e" stroke-width="0.22" dominant-baseline="central" >0</text>
<line x1="124.13" y1="342.50" x2="124.13" y2="338.50" stroke="#5a5a5a" stroke-width="1" />
<line x1="124.13" y1="205.00" x2="124.13" y2="209.00" stroke="#5a5a5a" stroke-width="1" />
<text x="124.13" y="354.80" font-size="11.2" text-anchor="middle" font-weight="normal" fill="#1e1e1e" stroke="#1e1e1e" stroke-width="0.22" dominant-baseline="central" >100</text>
<line x1="193.77" y1="342.50" x2="193.77" y2="338.50" stroke="#5a5a5a" stroke-width="1" />
<line x1="193.77" y1="205.00" x2="193.77" y2="209.00" stroke="#5a5a5a" stroke-width="1" />
<text x="193.77" y="354.80" font-size="11.2" text-anchor="middle" font-weight="normal" fill="#1e1e1e" stroke="#1e1e1e" stroke-width="0.22" dominant-baseline="central" >200</text>
<line x1="263.40" y1="342.50" x2="263.40" y2="338.50" stroke="#5a5a5a" stroke-width="1" />
<line x1="263.40" y1="205.00" x2="263.40" y2="209.00" stroke="#5a5a5a" stroke-width="1" />
<text x="263.40" y="354.80" font-size="11.2" text-anchor="middle" font-weight="normal" fill="#1e1e1e" stroke="#1e1e1e" stroke-width="0.22" dominant-baseline="central" >300</text>
<line x1="333.03" y1="342.50" x2="333.03" y2="338.50" stroke="#5a5a5a" stroke-width="1" />
<line x1="333.03" y1="205.00" x2="333.03" y2="209.00" stroke="#5a5a5a" stroke-width="1" />
<text x="333.03" y="354.80" font-size="11.2" text-anchor="middle" font-weight="normal" fill="#1e1e1e" stroke="#1e1e1e" stroke-width="0.22" dominant-baseline="central" >400</text>
<line x1="402.67" y1="342.50" x2="402.67" y2="338.50" stroke="#5a5a5a" stroke-width="1" />
<line x1="402.67" y1="205.00" x2="402.67" y2="209.00" stroke="#5a5a5a" stroke-width="1" />
<text x="402.67" y="354.80" font-size="11.2" text-anchor="middle" font-weight="normal" fill="#1e1e1e" stroke="#1e1e1e" stroke-width="0.22" dominant-baseline="central" >500</text>
<line x1="472.30" y1="342.50" x2="472.30" y2="338.50" stroke="#5a5a5a" stroke-width="1" />
<line x1="472.30" y1="205.00" x2="472.30" y2="209.00" stroke="#5a5a5a" stroke-width="1" />
<text x="472.30" y="354.80" font-size="11.2" text-anchor="middle" font-weight="normal" fill="#1e1e1e" stroke="#1e1e1e" stroke-width="0.22" dominant-baseline="central" >600</text>
<line x1="54.50" y1="342.50" x2="58.50" y2="342.50" stroke="#5a5a5a" stroke-width="1" />
<text x="49.80" y="342.80" font-size="11.2" text-anchor="end" font-weight="normal" fill="#1e1e1e" stroke="#1e1e1e" stroke-width="0.22" dominant-baseline="central" >0</text>
<line x1="54.50" y1="315.30" x2="58.50" y2="315.30" stroke="#5a5a5a" stroke-width="1" />
<text x="49.80" y="315.60" font-size="11.2" text-anchor="end" font-weight="normal" fill="#1e1e1e" stroke="#1e1e1e" stroke-width="0.22" dominant-baseline="central" >0.05</text>
<line x1="54.50" y1="288.10" x2="58.50" y2="288.10" stroke="#5a5a5a" stroke-width="1" />
<text x="49.80" y="288.40" font-size="11.2" text-anchor="end" font-weight="normal" fill="#1e1e1e" stroke="#1e1e1e" stroke-width="0.22" dominant-baseline="central" >0.1</text>
<line x1="54.50" y1="260.90" x2="58.50" y2="260.90" stroke="#5a5a5a" stroke-width="1" />
<text x="49.80" y="261.20" font-size="11.2" text-anchor="end" font-weight="normal" fill="#1e1e1e" stroke="#1e1e1e" stroke-width="0.22" dominant-baseline="central" >0.15</text>
<line x1="54.50" y1="233.70" x2="58.50" y2="233.70" stroke="#5a5a5a" stroke-width="1" />
<text x="49.80" y="234.00" font-size="11.2" text-anchor="end" font-weight="normal" fill="#1e1e1e" stroke="#1e1e1e" stroke-width="0.22" dominant-baseline="central" >0.2</text>
<line x1="472.30" y1="342.50" x2="468.30" y2="342.50" stroke="#c03030" stroke-width="1" />
<text x="476.20" y="342.80" font-size="11.8" text-anchor="start" font-weight="normal" fill="#b8282d" stroke="#b8282d" stroke-width="0.22" dominant-baseline="central" >0</text>
<line x1="472.30" y1="296.75" x2="468.30" y2="296.75" stroke="#c03030" stroke-width="1" />
<text x="476.20" y="297.05" font-size="11.8" text-anchor="start" font-weight="normal" fill="#b8282d" stroke="#b8282d" stroke-width="0.22" dominant-baseline="central" >1</text>
<line x1="472.30" y1="251.00" x2="468.30" y2="251.00" stroke="#c03030" stroke-width="1" />
<text x="476.20" y="251.30" font-size="11.8" text-anchor="start" font-weight="normal" fill="#b8282d" stroke="#b8282d" stroke-width="0.22" dominant-baseline="central" >2</text>
<line x1="472.30" y1="205.25" x2="468.30" y2="205.25" stroke="#c03030" stroke-width="1" />
<text x="476.20" y="205.55" font-size="11.8" text-anchor="start" font-weight="normal" fill="#b8282d" stroke="#b8282d" stroke-width="0.22" dominant-baseline="central" >3</text>
<text x="17.80" y="274.60" font-size="12" text-anchor="middle" font-weight="bold" fill="#111" stroke="#111" stroke-width="0.15" dominant-baseline="central" transform="rotate(-90 17.80 274.60)" textLength="16.7" lengthAdjust="spacingAndGlyphs">PdI</text>
<text x="493.40" y="273.90" font-size="10.8" text-anchor="middle" font-weight="bold" fill="#b42a35" stroke="#b42a35" stroke-width="0.15" dominant-baseline="central" transform="rotate(-90 493.40 273.90)" textLength="30.6" lengthAdjust="spacingAndGlyphs">Span</text>
<text x="263.00" y="371.30" font-size="12.6" text-anchor="middle" font-weight="bold" fill="#111" stroke="#111" stroke-width="0.15" dominant-baseline="central" >time (min)</text>
<path d="M69.4,308.8 Q62.2,321.6 69.4,334.6 M87.0,313.0 A7.6,9.7 0 1 0 87.0,327.6 M90.8,308.8 Q98.4,321.6 90.8,334.6" fill="none" stroke="#1c1f3f" stroke-width="2.4"/>
<rect x="318.50" y="299.00" width="143.80" height="35.30" fill="#fff" stroke="#444" stroke-width="1"/>
<line x1="322.00" y1="308.00" x2="360.00" y2="308.00" stroke="#000" stroke-width="3.2" />
<line x1="322.00" y1="323.30" x2="360.00" y2="323.30" stroke="#b02c2c" stroke-width="3.4" />
<text x="364.00" y="308.30" font-size="10.2" text-anchor="start" font-weight="bold" fill="#111" stroke="#111" stroke-width="0.15" dominant-baseline="central" letter-spacing="0.12">Cumulant PdI</text>
<text x="364" y="327" font-size="10.2" font-weight="bold" fill="#111">Span=(d<tspan font-size="8.6" dy="3.8" dx="0.8">90</tspan><tspan dy="-3.8">-d</tspan><tspan font-size="8.6" dy="3.8" dx="0.8">10</tspan><tspan dy="-3.8">)/d</tspan><tspan font-size="8.6" dy="3.8" dx="0.8">50</tspan></text>
<line x1="600.62" y1="11.60" x2="600.62" y2="342.00" stroke="#cfcfcf" stroke-width="0.8" stroke-dasharray="1.2,2.2"/>
<line x1="622.92" y1="11.60" x2="622.92" y2="342.00" stroke="#cfcfcf" stroke-width="0.8" stroke-dasharray="1.2,2.2"/>
<line x1="638.74" y1="11.60" x2="638.74" y2="342.00" stroke="#cfcfcf" stroke-width="0.8" stroke-dasharray="1.2,2.2"/>
<line x1="651.01" y1="11.60" x2="651.01" y2="342.00" stroke="#cfcfcf" stroke-width="0.8" stroke-dasharray="1.2,2.2"/>
<line x1="661.04" y1="11.60" x2="661.04" y2="342.00" stroke="#cfcfcf" stroke-width="0.8" stroke-dasharray="1.2,2.2"/>
<line x1="669.51" y1="11.60" x2="669.51" y2="342.00" stroke="#cfcfcf" stroke-width="0.8" stroke-dasharray="1.2,2.2"/>
<line x1="676.86" y1="11.60" x2="676.86" y2="342.00" stroke="#cfcfcf" stroke-width="0.8" stroke-dasharray="1.2,2.2"/>
<line x1="683.33" y1="11.60" x2="683.33" y2="342.00" stroke="#cfcfcf" stroke-width="0.8" stroke-dasharray="1.2,2.2"/>
<line x1="689.13" y1="11.60" x2="689.13" y2="342.00" stroke="#d8d8d8" stroke-width="0.8" />
<line x1="727.25" y1="11.60" x2="727.25" y2="342.00" stroke="#cfcfcf" stroke-width="0.8" stroke-dasharray="1.2,2.2"/>
<line x1="749.54" y1="11.60" x2="749.54" y2="342.00" stroke="#cfcfcf" stroke-width="0.8" stroke-dasharray="1.2,2.2"/>
<line x1="765.36" y1="11.60" x2="765.36" y2="342.00" stroke="#cfcfcf" stroke-width="0.8" stroke-dasharray="1.2,2.2"/>
<line x1="777.64" y1="11.60" x2="777.64" y2="342.00" stroke="#cfcfcf" stroke-width="0.8" stroke-dasharray="1.2,2.2"/>
<line x1="787.66" y1="11.60" x2="787.66" y2="342.00" stroke="#cfcfcf" stroke-width="0.8" stroke-dasharray="1.2,2.2"/>
<line x1="796.14" y1="11.60" x2="796.14" y2="342.00" stroke="#cfcfcf" stroke-width="0.8" stroke-dasharray="1.2,2.2"/>
<line x1="803.48" y1="11.60" x2="803.48" y2="342.00" stroke="#cfcfcf" stroke-width="0.8" stroke-dasharray="1.2,2.2"/>
<line x1="809.96" y1="11.60" x2="809.96" y2="342.00" stroke="#cfcfcf" stroke-width="0.8" stroke-dasharray="1.2,2.2"/>
<line x1="815.75" y1="11.60" x2="815.75" y2="342.00" stroke="#d8d8d8" stroke-width="0.8" />
<line x1="853.87" y1="11.60" x2="853.87" y2="342.00" stroke="#cfcfcf" stroke-width="0.8" stroke-dasharray="1.2,2.2"/>
<line x1="876.17" y1="11.60" x2="876.17" y2="342.00" stroke="#cfcfcf" stroke-width="0.8" stroke-dasharray="1.2,2.2"/>
<line x1="891.99" y1="11.60" x2="891.99" y2="342.00" stroke="#cfcfcf" stroke-width="0.8" stroke-dasharray="1.2,2.2"/>
<line x1="904.26" y1="11.60" x2="904.26" y2="342.00" stroke="#cfcfcf" stroke-width="0.8" stroke-dasharray="1.2,2.2"/>
<line x1="914.29" y1="11.60" x2="914.29" y2="342.00" stroke="#cfcfcf" stroke-width="0.8" stroke-dasharray="1.2,2.2"/>
<line x1="922.77" y1="11.60" x2="922.77" y2="342.00" stroke="#cfcfcf" stroke-width="0.8" stroke-dasharray="1.2,2.2"/>
<line x1="930.11" y1="11.60" x2="930.11" y2="342.00" stroke="#cfcfcf" stroke-width="0.8" stroke-dasharray="1.2,2.2"/>
<line x1="936.59" y1="11.60" x2="936.59" y2="342.00" stroke="#cfcfcf" stroke-width="0.8" stroke-dasharray="1.2,2.2"/>
<line x1="942.38" y1="11.60" x2="942.38" y2="342.00" stroke="#d8d8d8" stroke-width="0.8" />
<line x1="562.50" y1="231.87" x2="980.50" y2="231.87" stroke="#d8d8d8" stroke-width="0.8" />
<line x1="562.50" y1="121.73" x2="980.50" y2="121.73" stroke="#d8d8d8" stroke-width="0.8" />
<rect x="562.50" y="11.60" width="418.00" height="330.40" fill="none" stroke="#5a5a5a" stroke-width="1"/>
<line x1="562.50" y1="342.00" x2="562.50" y2="338.00" stroke="#5a5a5a" stroke-width="1" />
<line x1="562.50" y1="11.60" x2="562.50" y2="15.60" stroke="#5a5a5a" stroke-width="1" />
<line x1="600.62" y1="342.00" x2="600.62" y2="339.50" stroke="#5a5a5a" stroke-width="1" />
<line x1="600.62" y1="11.60" x2="600.62" y2="14.10" stroke="#5a5a5a" stroke-width="1" />
<line x1="622.92" y1="342.00" x2="622.92" y2="339.50" stroke="#5a5a5a" stroke-width="1" />
<line x1="622.92" y1="11.60" x2="622.92" y2="14.10" stroke="#5a5a5a" stroke-width="1" />
<line x1="638.74" y1="342.00" x2="638.74" y2="339.50" stroke="#5a5a5a" stroke-width="1" />
<line x1="638.74" y1="11.60" x2="638.74" y2="14.10" stroke="#5a5a5a" stroke-width="1" />
<line x1="651.01" y1="342.00" x2="651.01" y2="339.50" stroke="#5a5a5a" stroke-width="1" />
<line x1="651.01" y1="11.60" x2="651.01" y2="14.10" stroke="#5a5a5a" stroke-width="1" />
<line x1="661.04" y1="342.00" x2="661.04" y2="339.50" stroke="#5a5a5a" stroke-width="1" />
<line x1="661.04" y1="11.60" x2="661.04" y2="14.10" stroke="#5a5a5a" stroke-width="1" />
<line x1="669.51" y1="342.00" x2="669.51" y2="339.50" stroke="#5a5a5a" stroke-width="1" />
<line x1="669.51" y1="11.60" x2="669.51" y2="14.10" stroke="#5a5a5a" stroke-width="1" />
<line x1="676.86" y1="342.00" x2="676.86" y2="339.50" stroke="#5a5a5a" stroke-width="1" />
<line x1="676.86" y1="11.60" x2="676.86" y2="14.10" stroke="#5a5a5a" stroke-width="1" />
<line x1="683.33" y1="342.00" x2="683.33" y2="339.50" stroke="#5a5a5a" stroke-width="1" />
<line x1="683.33" y1="11.60" x2="683.33" y2="14.10" stroke="#5a5a5a" stroke-width="1" />
<line x1="689.13" y1="342.00" x2="689.13" y2="338.00" stroke="#5a5a5a" stroke-width="1" />
<line x1="689.13" y1="11.60" x2="689.13" y2="15.60" stroke="#5a5a5a" stroke-width="1" />
<line x1="727.25" y1="342.00" x2="727.25" y2="339.50" stroke="#5a5a5a" stroke-width="1" />
<line x1="727.25" y1="11.60" x2="727.25" y2="14.10" stroke="#5a5a5a" stroke-width="1" />
<line x1="749.54" y1="342.00" x2="749.54" y2="339.50" stroke="#5a5a5a" stroke-width="1" />
<line x1="749.54" y1="11.60" x2="749.54" y2="14.10" stroke="#5a5a5a" stroke-width="1" />
<line x1="765.36" y1="342.00" x2="765.36" y2="339.50" stroke="#5a5a5a" stroke-width="1" />
<line x1="765.36" y1="11.60" x2="765.36" y2="14.10" stroke="#5a5a5a" stroke-width="1" />
<line x1="777.64" y1="342.00" x2="777.64" y2="339.50" stroke="#5a5a5a" stroke-width="1" />
<line x1="777.64" y1="11.60" x2="777.64" y2="14.10" stroke="#5a5a5a" stroke-width="1" />
<line x1="787.66" y1="342.00" x2="787.66" y2="339.50" stroke="#5a5a5a" stroke-width="1" />
<line x1="787.66" y1="11.60" x2="787.66" y2="14.10" stroke="#5a5a5a" stroke-width="1" />
<line x1="796.14" y1="342.00" x2="796.14" y2="339.50" stroke="#5a5a5a" stroke-width="1" />
<line x1="796.14" y1="11.60" x2="796.14" y2="14.10" stroke="#5a5a5a" stroke-width="1" />
<line x1="803.48" y1="342.00" x2="803.48" y2="339.50" stroke="#5a5a5a" stroke-width="1" />
<line x1="803.48" y1="11.60" x2="803.48" y2="14.10" stroke="#5a5a5a" stroke-width="1" />
<line x1="809.96" y1="342.00" x2="809.96" y2="339.50" stroke="#5a5a5a" stroke-width="1" />
<line x1="809.96" y1="11.60" x2="809.96" y2="14.10" stroke="#5a5a5a" stroke-width="1" />
<line x1="815.75" y1="342.00" x2="815.75" y2="338.00" stroke="#5a5a5a" stroke-width="1" />
<line x1="815.75" y1="11.60" x2="815.75" y2="15.60" stroke="#5a5a5a" stroke-width="1" />
<line x1="853.87" y1="342.00" x2="853.87" y2="339.50" stroke="#5a5a5a" stroke-width="1" />
<line x1="853.87" y1="11.60" x2="853.87" y2="14.10" stroke="#5a5a5a" stroke-width="1" />
<line x1="876.17" y1="342.00" x2="876.17" y2="339.50" stroke="#5a5a5a" stroke-width="1" />
<line x1="876.17" y1="11.60" x2="876.17" y2="14.10" stroke="#5a5a5a" stroke-width="1" />
<line x1="891.99" y1="342.00" x2="891.99" y2="339.50" stroke="#5a5a5a" stroke-width="1" />
<line x1="891.99" y1="11.60" x2="891.99" y2="14.10" stroke="#5a5a5a" stroke-width="1" />
<line x1="904.26" y1="342.00" x2="904.26" y2="339.50" stroke="#5a5a5a" stroke-width="1" />
<line x1="904.26" y1="11.60" x2="904.26" y2="14.10" stroke="#5a5a5a" stroke-width="1" />
<line x1="914.29" y1="342.00" x2="914.29" y2="339.50" stroke="#5a5a5a" stroke-width="1" />
<line x1="914.29" y1="11.60" x2="914.29" y2="14.10" stroke="#5a5a5a" stroke-width="1" />
<line x1="922.77" y1="342.00" x2="922.77" y2="339.50" stroke="#5a5a5a" stroke-width="1" />
<line x1="922.77" y1="11.60" x2="922.77" y2="14.10" stroke="#5a5a5a" stroke-width="1" />
<line x1="930.11" y1="342.00" x2="930.11" y2="339.50" stroke="#5a5a5a" stroke-width="1" />
<line x1="930.11" y1="11.60" x2="930.11" y2="14.10" stroke="#5a5a5a" stroke-width="1" />
<line x1="936.59" y1="342.00" x2="936.59" y2="339.50" stroke="#5a5a5a" stroke-width="1" />
<line x1="936.59" y1="11.60" x2="936.59" y2="14.10" stroke="#5a5a5a" stroke-width="1" />
<line x1="942.38" y1="342.00" x2="942.38" y2="338.00" stroke="#5a5a5a" stroke-width="1" />
<line x1="942.38" y1="11.60" x2="942.38" y2="15.60" stroke="#5a5a5a" stroke-width="1" />
<line x1="980.50" y1="342.00" x2="980.50" y2="339.50" stroke="#5a5a5a" stroke-width="1" />
<line x1="980.50" y1="11.60" x2="980.50" y2="14.10" stroke="#5a5a5a" stroke-width="1" />
<line x1="562.50" y1="342.00" x2="566.50" y2="342.00" stroke="#5a5a5a" stroke-width="1" />
<line x1="980.50" y1="342.00" x2="976.50" y2="342.00" stroke="#5a5a5a" stroke-width="1" />
<text x="556.40" y="343.50" font-size="12.5" text-anchor="end" font-weight="normal" fill="#1e1e1e" stroke="#1e1e1e" stroke-width="0.22" dominant-baseline="central" >0</text>
<line x1="562.50" y1="231.87" x2="566.50" y2="231.87" stroke="#5a5a5a" stroke-width="1" />
<line x1="980.50" y1="231.87" x2="976.50" y2="231.87" stroke="#5a5a5a" stroke-width="1" />
<text x="556.40" y="233.20" font-size="12.5" text-anchor="end" font-weight="normal" fill="#1e1e1e" stroke="#1e1e1e" stroke-width="0.22" dominant-baseline="central" >0.05</text>
<line x1="562.50" y1="121.73" x2="566.50" y2="121.73" stroke="#5a5a5a" stroke-width="1" />
<line x1="980.50" y1="121.73" x2="976.50" y2="121.73" stroke="#5a5a5a" stroke-width="1" />
<text x="556.40" y="123.30" font-size="12.5" text-anchor="end" font-weight="normal" fill="#1e1e1e" stroke="#1e1e1e" stroke-width="0.22" dominant-baseline="central" >0.1</text>
<line x1="562.50" y1="11.60" x2="566.50" y2="11.60" stroke="#5a5a5a" stroke-width="1" />
<line x1="980.50" y1="11.60" x2="976.50" y2="11.60" stroke="#5a5a5a" stroke-width="1" />
<text x="556.40" y="13.40" font-size="12.5" text-anchor="end" font-weight="normal" fill="#1e1e1e" stroke="#1e1e1e" stroke-width="0.22" dominant-baseline="central" >0.15</text>
<g clip-path="url(#clipB)">
<polyline points="562.50,342.00 563.00,342.00 563.50,342.00 564.00,342.00 564.50,342.00 565.00,342.00 565.50,342.00 566.00,342.00 566.50,342.00 567.00,342.00 567.50,342.00 568.00,342.00 568.50,342.00 569.00,342.00 569.50,342.00 570.00,342.00 570.50,342.00 571.00,342.00 571.50,342.00 572.00,342.00 572.50,342.00 573.00,342.00 573.50,342.00 574.00,342.00 574.50,342.00 575.00,342.00 575.50,342.00 576.00,342.00 576.50,342.00 577.00,342.00 577.50,342.00 578.00,342.00 578.50,342.00 579.00,342.00 579.50,342.00 580.00,342.00 580.50,342.00 581.00,342.00 581.50,342.00 582.00,342.00 582.50,342.00 583.00,342.00 583.50,342.00 584.00,342.00 584.50,342.00 585.00,342.00 585.50,342.00 586.00,342.00 586.50,342.00 587.00,342.00 587.50,342.00 588.00,342.00 588.50,342.00 589.00,342.00 589.50,342.00 590.00,342.00 590.50,342.00 591.00,342.00 591.50,342.00 592.00,342.00 592.50,342.00 593.00,342.00 593.50,342.00 594.00,342.00 594.50,342.00 595.00,342.00 595.50,342.00 596.00,342.00 596.50,342.00 597.00,342.00 597.50,342.00 598.00,342.00 598.50,342.00 599.00,342.00 599.50,342.00 600.00,342.00 600.50,342.00 601.00,342.00 601.50,342.00 602.00,342.00 602.50,342.00 603.00,342.00 603.50,342.00 604.00,342.00 604.50,342.00 605.00,342.00 605.50,342.00 606.00,342.00 606.50,342.00 607.00,342.00 607.50,342.00 608.00,342.00 608.50,342.00 609.00,342.00 609.50,342.00 610.00,342.00 610.50,342.00 611.00,342.00 611.50,342.00 612.00,342.00 612.50,342.00 613.00,342.00 613.50,342.00 614.00,342.00 614.50,342.00 615.00,342.00 615.50,342.00 616.00,342.00 616.50,342.00 617.00,342.00 617.50,342.00 618.00,342.00 618.50,342.00 619.00,342.00 619.50,342.00 620.00,342.00 620.50,342.00 621.00,342.00 621.50,342.00 622.00,342.00 622.50,342.00 623.00,342.00 623.50,342.00 624.00,342.00 624.50,342.00 625.00,342.00 625.50,342.00 626.00,342.00 626.50,342.00 627.00,342.00 627.50,342.00 628.00,342.00 628.50,342.00 629.00,342.00 629.50,342.00 630.00,342.00 630.50,341.99 631.00,341.99 631.50,341.98 632.00,341.98 632.50,341.96 633.00,341.95 633.50,341.92 634.00,341.89 634.50,341.84 635.00,341.78 635.50,341.69 636.00,341.57 636.50,341.42 637.00,341.22 637.50,340.96 638.00,340.63 638.50,340.22 639.00,339.70 639.50,339.07 640.00,338.29 640.50,337.35 641.00,336.22 641.50,334.88 642.00,333.30 642.50,331.47 643.00,329.34 643.50,326.91 644.00,324.14 644.50,321.01 645.00,317.51 645.50,313.63 646.00,309.34 646.50,304.65 647.00,299.54 647.50,294.02 648.00,288.10 648.50,281.79 649.00,275.09 649.50,268.04 650.00,260.65 650.50,252.95 651.00,244.97 651.50,236.75 652.00,228.32 652.50,219.72 653.00,210.99 653.50,202.16 654.00,193.29 654.50,184.40 655.00,175.54 655.50,166.74 656.00,158.03 656.50,149.46 657.00,141.04 657.50,132.81 658.00,124.80 658.50,117.02 659.00,109.50 659.50,102.24 660.00,95.27 660.50,88.59 661.00,82.22 661.50,76.15 662.00,70.40 662.50,64.96 663.00,59.83 663.50,55.01 664.00,50.49 664.50,46.28 665.00,42.36 665.50,38.72 666.00,35.37 666.50,32.29 667.00,29.47 667.50,26.90 668.00,24.59 668.50,22.51 669.00,20.66 669.50,19.03 670.00,17.62 670.50,16.43 671.00,15.43 671.50,14.64 672.00,14.05 672.50,13.64 673.00,13.43 673.50,13.41 674.00,13.58 674.50,13.94 675.00,14.48 675.50,15.21 676.00,16.13 676.50,17.23 677.00,18.52 677.50,19.99 678.00,21.65 678.50,23.48 679.00,25.51 679.50,27.71 680.00,30.09 680.50,32.65 681.00,35.38 681.50,38.29 682.00,41.38 682.50,44.63 683.00,48.05 683.50,51.63 684.00,55.38 684.50,59.28 685.00,63.34 685.50,67.55 686.00,71.91 686.50,76.41 687.00,81.05 687.50,85.82 688.00,90.72 688.50,95.75 689.00,100.88 689.50,106.13 690.00,111.48 690.50,116.92 691.00,122.45 691.50,128.07 692.00,133.75 692.50,139.50 693.00,145.31 693.50,151.16 694.00,157.05 694.50,162.97 695.00,168.91 695.50,174.86 696.00,180.81 696.50,186.74 697.00,192.66 697.50,198.55 698.00,204.39 698.50,210.19 699.00,215.93 699.50,221.60 700.00,227.19 700.50,232.69 701.00,238.10 701.50,243.40 702.00,248.59 702.50,253.66 703.00,258.61 703.50,263.42 704.00,268.09 704.50,272.61 705.00,276.98 705.50,281.20 706.00,285.26 706.50,289.16 707.00,292.90 707.50,296.47 708.00,299.87 708.50,303.11 709.00,306.18 709.50,309.09 710.00,311.83 710.50,314.42 711.00,316.84 711.50,319.11 712.00,321.24 712.50,323.21 713.00,325.04 713.50,326.74 714.00,328.31 714.50,329.75 715.00,331.07 715.50,332.28 716.00,333.38 716.50,334.38 717.00,335.29 717.50,336.11 718.00,336.84 718.50,337.50 719.00,338.09 719.50,338.61 720.00,339.08 720.50,339.48 721.00,339.84 721.50,340.16 722.00,340.44 722.50,340.68 723.00,340.88 723.50,341.06 724.00,341.21 724.50,341.35 725.00,341.46 725.50,341.55 726.00,341.63 726.50,341.70 727.00,341.75 727.50,341.80 728.00,341.84 728.50,341.87 729.00,341.90 729.50,341.92 730.00,341.93 730.50,341.95 731.00,341.96 731.50,341.97 732.00,341.98 732.50,341.98 733.00,341.99 733.50,341.99 734.00,341.99 734.50,341.99 735.00,342.00 735.50,342.00 736.00,342.00 736.50,342.00 737.00,342.00 737.50,342.00 738.00,342.00 738.50,342.00 739.00,342.00 739.50,342.00 740.00,342.00 740.50,342.00 741.00,342.00 741.50,342.00 742.00,342.00 742.50,342.00 743.00,342.00 743.50,342.00 744.00,342.00 744.50,342.00 745.00,342.00 745.50,342.00 746.00,342.00 746.50,342.00 747.00,342.00 747.50,342.00 748.00,342.00 748.50,342.00 749.00,342.00 749.50,342.00 750.00,342.00 750.50,342.00 751.00,342.00 751.50,342.00 752.00,342.00 752.50,342.00 753.00,342.00 753.50,342.00 754.00,342.00 754.50,342.00 755.00,342.00 755.50,342.00 756.00,342.00 756.50,342.00 757.00,342.00 757.50,342.00 758.00,342.00 758.50,342.00 759.00,342.00 759.50,342.00 760.00,342.00 760.50,342.00 761.00,342.00 761.50,342.00 762.00,342.00 762.50,342.00 763.00,342.00 763.50,342.00 764.00,342.00 764.50,342.00 765.00,342.00 765.50,342.00 766.00,342.00 766.50,342.00 767.00,342.00 767.50,342.00 768.00,342.00 768.50,342.00 769.00,342.00 769.50,342.00 770.00,342.00 770.50,342.00 771.00,342.00 771.50,342.00 772.00,342.00 772.50,342.00 773.00,342.00 773.50,342.00 774.00,342.00 774.50,342.00 775.00,342.00 775.50,342.00 776.00,342.00 776.50,342.00 777.00,342.00 777.50,342.00 778.00,342.00 778.50,342.00 779.00,342.00 779.50,342.00 780.00,342.00 780.50,342.00 781.00,342.00 781.50,342.00 782.00,342.00 782.50,342.00 783.00,342.00 783.50,342.00 784.00,342.00 784.50,342.00 785.00,342.00 785.50,342.00 786.00,342.00 786.50,342.00 787.00,342.00 787.50,342.00 788.00,342.00 788.50,342.00 789.00,342.00 789.50,342.00 790.00,342.00 790.50,342.00 791.00,342.00 791.50,342.00 792.00,342.00 792.50,342.00 793.00,342.00 793.50,342.00 794.00,342.00 794.50,342.00 795.00,342.00 795.50,342.00 796.00,342.00 796.50,342.00 797.00,342.00 797.50,342.00 798.00,342.00 798.50,342.00 799.00,342.00 799.50,342.00 800.00,342.00 800.50,342.00 801.00,342.00 801.50,342.00 802.00,342.00 802.50,342.00 803.00,342.00 803.50,342.00 804.00,342.00 804.50,342.00 805.00,342.00 805.50,342.00 806.00,342.00 806.50,342.00 807.00,342.00 807.50,342.00 808.00,342.00 808.50,342.00 809.00,342.00 809.50,342.00 810.00,342.00 810.50,342.00 811.00,342.00 811.50,342.00 812.00,342.00 812.50,342.00 813.00,342.00 813.50,342.00 814.00,342.00 814.50,342.00 815.00,342.00 815.50,342.00 816.00,342.00 816.50,342.00 817.00,342.00 817.50,342.00 818.00,342.00 818.50,342.00 819.00,342.00 819.50,342.00 820.00,342.00 820.50,342.00 821.00,342.00 821.50,342.00 822.00,342.00 822.50,342.00 823.00,342.00 823.50,342.00 824.00,342.00 824.50,342.00 825.00,342.00 825.50,342.00 826.00,342.00 826.50,342.00 827.00,342.00 827.50,342.00 828.00,342.00 828.50,342.00 829.00,342.00 829.50,342.00 830.00,342.00 830.50,342.00 831.00,342.00 831.50,342.00 832.00,342.00 832.50,342.00 833.00,342.00 833.50,342.00 834.00,342.00 834.50,342.00 835.00,342.00 835.50,342.00 836.00,342.00 836.50,342.00 837.00,342.00 837.50,342.00 838.00,342.00 838.50,342.00 839.00,342.00 839.50,342.00 840.00,342.00 840.50,342.00 841.00,342.00 841.50,342.00 842.00,342.00 842.50,342.00 843.00,342.00 843.50,342.00 844.00,342.00 844.50,342.00 845.00,342.00 845.50,342.00 846.00,342.00 846.50,342.00 847.00,342.00 847.50,342.00 848.00,342.00 848.50,342.00 849.00,342.00 849.50,342.00 850.00,342.00 850.50,342.00 851.00,342.00 851.50,342.00 852.00,342.00 852.50,342.00 853.00,342.00 853.50,342.00 854.00,342.00 854.50,342.00 855.00,342.00 855.50,342.00 856.00,342.00 856.50,342.00 857.00,342.00 857.50,342.00 858.00,342.00 858.50,342.00 859.00,342.00 859.50,342.00 860.00,342.00 860.50,342.00 861.00,342.00 861.50,342.00 862.00,342.00 862.50,342.00 863.00,342.00 863.50,342.00 864.00,342.00 864.50,342.00 865.00,342.00 865.50,342.00 866.00,342.00 866.50,342.00 867.00,342.00 867.50,342.00 868.00,342.00 868.50,342.00 869.00,342.00 869.50,342.00 870.00,342.00 870.50,342.00 871.00,342.00 871.50,342.00 872.00,342.00 872.50,342.00 873.00,342.00 873.50,342.00 874.00,342.00 874.50,342.00 875.00,342.00 875.50,342.00 876.00,342.00 876.50,342.00 877.00,342.00 877.50,342.00 878.00,342.00 878.50,342.00 879.00,342.00 879.50,342.00 880.00,342.00 880.50,342.00 881.00,342.00 881.50,342.00 882.00,342.00 882.50,342.00 883.00,342.00 883.50,342.00 884.00,342.00 884.50,342.00 885.00,342.00 885.50,342.00 886.00,342.00 886.50,342.00 887.00,342.00 887.50,342.00 888.00,342.00 888.50,342.00 889.00,342.00 889.50,342.00 890.00,342.00 890.50,342.00 891.00,342.00 891.50,342.00 892.00,342.00 892.50,342.00 893.00,342.00 893.50,342.00 894.00,342.00 894.50,342.00 895.00,342.00 895.50,342.00 896.00,342.00 896.50,342.00 897.00,342.00 897.50,342.00 898.00,342.00 898.50,342.00 899.00,342.00 899.50,342.00 900.00,342.00 900.50,342.00 901.00,342.00 901.50,342.00 902.00,342.00 902.50,342.00 903.00,342.00 903.50,342.00 904.00,342.00 904.50,342.00 905.00,342.00 905.50,342.00 906.00,342.00 906.50,342.00 907.00,342.00 907.50,342.00 908.00,342.00 908.50,342.00 909.00,342.00 909.50,342.00 910.00,342.00 910.50,342.00 911.00,342.00 911.50,342.00 912.00,342.00 912.50,342.00 913.00,342.00 913.50,342.00 914.00,342.00 914.50,342.00 915.00,342.00 915.50,342.00 916.00,342.00 916.50,342.00 917.00,342.00 917.50,342.00 918.00,342.00 918.50,342.00 919.00,342.00 919.50,342.00 920.00,342.00 920.50,342.00 921.00,342.00 921.50,342.00 922.00,342.00 922.50,342.00 923.00,342.00 923.50,342.00 924.00,342.00 924.50,342.00 925.00,342.00 925.50,342.00 926.00,342.00 926.50,342.00 927.00,342.00 927.50,342.00 928.00,342.00 928.50,342.00 929.00,342.00 929.50,342.00 930.00,342.00 930.50,342.00 931.00,342.00 931.50,342.00 932.00,342.00 932.50,342.00 933.00,342.00 933.50,342.00 934.00,342.00 934.50,342.00 935.00,342.00 935.50,342.00 936.00,342.00 936.50,342.00 937.00,342.00 937.50,342.00 938.00,342.00 938.50,342.00 939.00,342.00 939.50,342.00 940.00,342.00 940.50,342.00 941.00,342.00 941.50,342.00 942.00,342.00 942.50,342.00 943.00,342.00 943.50,342.00 944.00,342.00 944.50,342.00 945.00,342.00 945.50,342.00 946.00,342.00 946.50,342.00 947.00,342.00 947.50,342.00 948.00,342.00 948.50,342.00 949.00,342.00 949.50,342.00 950.00,342.00 950.50,342.00 951.00,342.00 951.50,342.00 952.00,342.00 952.50,342.00 953.00,342.00 953.50,342.00 954.00,342.00 954.50,342.00 955.00,342.00 955.50,342.00 956.00,342.00 956.50,342.00 957.00,342.00 957.50,342.00 958.00,342.00 958.50,342.00 959.00,342.00 959.50,342.00 960.00,342.00 960.50,342.00 961.00,342.00 961.50,342.00 962.00,342.00 962.50,342.00 963.00,342.00 963.50,342.00 964.00,342.00 964.50,342.00 965.00,342.00 965.50,342.00 966.00,342.00 966.50,342.00 967.00,342.00 967.50,342.00 968.00,342.00 968.50,342.00 969.00,342.00 969.50,342.00 970.00,342.00 970.50,342.00 971.00,342.00 971.50,342.00 972.00,342.00 972.50,342.00 973.00,342.00 973.50,342.00 974.00,342.00 974.50,342.00 975.00,342.00 975.50,342.00 976.00,342.00 976.50,342.00 977.00,342.00 977.50,342.00 978.00,342.00 978.50,342.00 979.00,342.00 979.50,342.00 980.00,342.00 980.50,342.00" fill="none" stroke="#c81e1e" stroke-width="3.8" stroke-linejoin="round" stroke-linecap="round" />
<polyline points="562.50,342.00 563.00,342.00 563.50,342.00 564.00,342.00 564.50,342.00 565.00,342.00 565.50,342.00 566.00,342.00 566.50,342.00 567.00,342.00 567.50,342.00 568.00,342.00 568.50,342.00 569.00,342.00 569.50,342.00 570.00,342.00 570.50,342.00 571.00,342.00 571.50,342.00 572.00,342.00 572.50,342.00 573.00,342.00 573.50,342.00 574.00,342.00 574.50,342.00 575.00,342.00 575.50,342.00 576.00,342.00 576.50,342.00 577.00,342.00 577.50,342.00 578.00,342.00 578.50,342.00 579.00,342.00 579.50,342.00 580.00,342.00 580.50,342.00 581.00,342.00 581.50,342.00 582.00,342.00 582.50,342.00 583.00,342.00 583.50,342.00 584.00,342.00 584.50,342.00 585.00,342.00 585.50,342.00 586.00,342.00 586.50,342.00 587.00,342.00 587.50,342.00 588.00,342.00 588.50,342.00 589.00,342.00 589.50,342.00 590.00,342.00 590.50,342.00 591.00,342.00 591.50,342.00 592.00,342.00 592.50,342.00 593.00,342.00 593.50,342.00 594.00,342.00 594.50,342.00 595.00,342.00 595.50,342.00 596.00,342.00 596.50,342.00 597.00,342.00 597.50,342.00 598.00,342.00 598.50,342.00 599.00,342.00 599.50,342.00 600.00,342.00 600.50,342.00 601.00,342.00 601.50,342.00 602.00,342.00 602.50,342.00 603.00,342.00 603.50,342.00 604.00,342.00 604.50,342.00 605.00,342.00 605.50,342.00 606.00,342.00 606.50,342.00 607.00,342.00 607.50,342.00 608.00,342.00 608.50,342.00 609.00,342.00 609.50,342.00 610.00,342.00 610.50,342.00 611.00,342.00 611.50,342.00 612.00,342.00 612.50,342.00 613.00,342.00 613.50,342.00 614.00,342.00 614.50,342.00 615.00,342.00 615.50,342.00 616.00,342.00 616.50,342.00 617.00,342.00 617.50,342.00 618.00,342.00 618.50,342.00 619.00,342.00 619.50,342.00 620.00,342.00 620.50,342.00 621.00,342.00 621.50,342.00 622.00,342.00 622.50,342.00 623.00,342.00 623.50,342.00 624.00,342.00 624.50,342.00 625.00,342.00 625.50,342.00 626.00,342.00 626.50,342.00 627.00,342.00 627.50,342.00 628.00,342.00 628.50,342.00 629.00,342.00 629.50,342.00 630.00,342.00 630.50,342.00 631.00,342.00 631.50,342.00 632.00,342.00 632.50,342.00 633.00,342.00 633.50,341.99 634.00,341.99 634.50,341.98 635.00,341.98 635.50,341.96 636.00,341.94 636.50,341.92 637.00,341.88 637.50,341.82 638.00,341.75 638.50,341.65 639.00,341.51 639.50,341.34 640.00,341.10 640.50,340.81 641.00,340.43 641.50,339.95 642.00,339.36 642.50,338.64 643.00,337.77 643.50,336.72 644.00,335.48 644.50,334.03 645.00,332.33 645.50,330.39 646.00,328.17 646.50,325.66 647.00,322.86 647.50,319.75 648.00,316.32 648.50,312.57 649.00,308.51 649.50,304.15 650.00,299.48 650.50,294.54 651.00,289.33 651.50,283.87 652.00,278.20 652.50,272.33 653.00,266.31 653.50,260.15 654.00,253.89 654.50,247.57 655.00,241.21 655.50,234.85 656.00,228.52 656.50,222.24 657.00,216.05 657.50,209.97 658.00,204.03 658.50,198.25 659.00,192.65 659.50,187.24 660.00,182.05 660.50,177.08 661.00,172.35 661.50,167.86 662.00,163.63 662.50,159.66 663.00,155.94 663.50,152.50 664.00,149.32 664.50,146.40 665.00,143.76 665.50,141.38 666.00,139.27 666.50,137.42 667.00,135.83 667.50,134.50 668.00,133.43 668.50,132.62 669.00,132.07 669.50,131.77 670.00,131.71 670.50,131.86 671.00,132.22 671.50,132.77 672.00,133.53 672.50,134.48 673.00,135.62 673.50,136.95 674.00,138.47 674.50,140.16 675.00,142.02 675.50,144.05 676.00,146.23 676.50,148.57 677.00,151.06 677.50,153.67 678.00,156.42 678.50,159.28 679.00,162.26 679.50,165.33 680.00,168.50 680.50,171.75 681.00,175.06 681.50,178.45 682.00,181.88 682.50,185.36 683.00,188.87 683.50,192.41 684.00,195.96 684.50,199.51 685.00,203.07 685.50,206.61 686.00,210.13 686.50,213.62 687.00,217.08 687.50,220.49 688.00,223.85 688.50,227.15 689.00,230.39 689.50,233.56 690.00,236.66 690.50,239.67 691.00,242.61 691.50,245.45 692.00,248.20 692.50,250.85 693.00,253.40 693.50,255.86 694.00,258.21 694.50,260.46 695.00,262.60 695.50,264.64 696.00,266.57 696.50,268.40 697.00,270.12 697.50,271.74 698.00,273.26 698.50,274.67 699.00,275.99 699.50,277.21 700.00,278.34 700.50,279.38 701.00,280.33 701.50,281.19 702.00,281.97 702.50,282.68 703.00,283.31 703.50,283.87 704.00,284.36 704.50,284.79 705.00,285.16 705.50,285.48 706.00,285.74 706.50,285.96 707.00,286.14 707.50,286.27 708.00,286.37 708.50,286.44 709.00,286.49 709.50,286.51 710.00,286.51 710.50,286.49 711.00,286.46 711.50,286.42 712.00,286.37 712.50,286.31 713.00,286.26 713.50,286.20 714.00,286.15 714.50,286.11 715.00,286.07 715.50,286.04 716.00,286.02 716.50,286.01 717.00,286.02 717.50,286.04 718.00,286.07 718.50,286.12 719.00,286.18 719.50,286.26 720.00,286.36 720.50,286.46 721.00,286.58 721.50,286.68 722.00,286.78 722.50,286.88 723.00,286.97 723.50,287.05 724.00,287.14 724.50,287.23 725.00,287.32 725.50,287.42 726.00,287.52 726.50,287.62 727.00,287.74 727.50,287.86 728.00,287.99 728.50,288.13 729.00,288.28 729.50,288.45 730.00,288.62 730.50,288.81 731.00,289.02 731.50,289.24 732.00,289.47 732.50,289.73 733.00,289.99 733.50,290.28 734.00,290.58 734.50,290.90 735.00,291.24 735.50,291.59 736.00,291.97 736.50,292.36 737.00,292.78 737.50,293.21 738.00,293.66 738.50,294.13 739.00,294.61 739.50,295.12 740.00,295.65 740.50,296.19 741.00,296.75 741.50,297.33 742.00,297.93 742.50,298.54 743.00,299.17 743.50,299.81 744.00,300.47 744.50,301.15 745.00,301.84 745.50,302.54 746.00,303.25 746.50,303.98 747.00,304.72 747.50,305.47 748.00,306.23 748.50,306.99 749.00,307.77 749.50,308.55 750.00,309.33 750.50,310.12 751.00,310.92 751.50,311.72 752.00,312.52 752.50,313.32 753.00,314.12 753.50,314.92 754.00,315.72 754.50,316.51 755.00,317.30 755.50,318.09 756.00,318.87 756.50,319.64 757.00,320.41 757.50,321.17 758.00,321.92 758.50,322.66 759.00,323.38 759.50,324.10 760.00,324.81 760.50,325.50 761.00,326.18 761.50,326.85 762.00,327.50 762.50,328.13 763.00,328.75 763.50,329.36 764.00,329.95 764.50,330.52 765.00,331.08 765.50,331.62 766.00,332.15 766.50,332.65 767.00,333.14 767.50,333.62 768.00,334.07 768.50,334.51 769.00,334.94 769.50,335.34 770.00,335.73 770.50,336.10 771.00,336.46 771.50,336.80 772.00,337.13 772.50,337.44 773.00,337.73 773.50,338.01 774.00,338.28 774.50,338.53 775.00,338.77 775.50,339.00 776.00,339.21 776.50,339.41 777.00,339.60 777.50,339.78 778.00,339.95 778.50,340.11 779.00,340.26 779.50,340.39 780.00,340.52 780.50,340.64 781.00,340.76 781.50,340.86 782.00,340.96 782.50,341.05 783.00,341.13 783.50,341.21 784.00,341.28 784.50,341.34 785.00,341.40 785.50,341.46 786.00,341.51 786.50,341.56 787.00,341.60 787.50,341.64 788.00,341.68 788.50,341.71 789.00,341.74 789.50,341.77 790.00,341.79 790.50,341.81 791.00,341.83 791.50,341.85 792.00,341.87 792.50,341.88 793.00,341.89 793.50,341.91 794.00,341.92 794.50,341.93 795.00,341.94 795.50,341.94 796.00,341.95 796.50,341.96 797.00,341.96 797.50,341.97 798.00,341.97 798.50,341.97 799.00,341.98 799.50,341.98 800.00,341.98 800.50,341.99 801.00,341.99 801.50,341.99 802.00,341.99 802.50,341.99 803.00,341.99 803.50,341.99 804.00,341.99 804.50,342.00 805.00,342.00 805.50,342.00 806.00,342.00 806.50,342.00 807.00,342.00 807.50,342.00 808.00,342.00 808.50,342.00 809.00,342.00 809.50,342.00 810.00,342.00 810.50,342.00 811.00,342.00 811.50,342.00 812.00,342.00 812.50,342.00 813.00,342.00 813.50,342.00 814.00,342.00 814.50,342.00 815.00,342.00 815.50,342.00 816.00,342.00 816.50,342.00 817.00,342.00 817.50,342.00 818.00,342.00 818.50,342.00 819.00,342.00 819.50,342.00 820.00,342.00 820.50,342.00 821.00,342.00 821.50,342.00 822.00,342.00 822.50,342.00 823.00,342.00 823.50,342.00 824.00,342.00 824.50,342.00 825.00,342.00 825.50,342.00 826.00,342.00 826.50,342.00 827.00,342.00 827.50,342.00 828.00,342.00 828.50,342.00 829.00,342.00 829.50,342.00 830.00,342.00 830.50,342.00 831.00,342.00 831.50,342.00 832.00,342.00 832.50,342.00 833.00,342.00 833.50,342.00 834.00,342.00 834.50,342.00 835.00,342.00 835.50,342.00 836.00,342.00 836.50,342.00 837.00,342.00 837.50,342.00 838.00,342.00 838.50,342.00 839.00,342.00 839.50,342.00 840.00,342.00 840.50,342.00 841.00,342.00 841.50,342.00 842.00,342.00 842.50,342.00 843.00,342.00 843.50,342.00 844.00,342.00 844.50,342.00 845.00,342.00 845.50,342.00 846.00,342.00 846.50,342.00 847.00,342.00 847.50,342.00 848.00,342.00 848.50,342.00 849.00,342.00 849.50,342.00 850.00,342.00 850.50,342.00 851.00,342.00 851.50,342.00 852.00,342.00 852.50,342.00 853.00,342.00 853.50,342.00 854.00,342.00 854.50,342.00 855.00,342.00 855.50,342.00 856.00,342.00 856.50,342.00 857.00,342.00 857.50,342.00 858.00,342.00 858.50,342.00 859.00,342.00 859.50,342.00 860.00,342.00 860.50,342.00 861.00,342.00 861.50,342.00 862.00,342.00 862.50,342.00 863.00,342.00 863.50,342.00 864.00,342.00 864.50,342.00 865.00,342.00 865.50,342.00 866.00,342.00 866.50,342.00 867.00,342.00 867.50,342.00 868.00,342.00 868.50,342.00 869.00,342.00 869.50,342.00 870.00,342.00 870.50,342.00 871.00,342.00 871.50,342.00 872.00,342.00 872.50,342.00 873.00,342.00 873.50,342.00 874.00,342.00 874.50,342.00 875.00,342.00 875.50,342.00 876.00,342.00 876.50,342.00 877.00,342.00 877.50,342.00 878.00,342.00 878.50,342.00 879.00,342.00 879.50,342.00 880.00,342.00 880.50,342.00 881.00,342.00 881.50,342.00 882.00,342.00 882.50,342.00 883.00,342.00 883.50,342.00 884.00,342.00 884.50,342.00 885.00,342.00 885.50,342.00 886.00,342.00 886.50,342.00 887.00,342.00 887.50,342.00 888.00,342.00 888.50,342.00 889.00,342.00 889.50,342.00 890.00,342.00 890.50,342.00 891.00,342.00 891.50,342.00 892.00,342.00 892.50,342.00 893.00,342.00 893.50,342.00 894.00,342.00 894.50,342.00 895.00,342.00 895.50,342.00 896.00,342.00 896.50,342.00 897.00,342.00 897.50,342.00 898.00,342.00 898.50,342.00 899.00,342.00 899.50,342.00 900.00,342.00 900.50,342.00 901.00,342.00 901.50,342.00 902.00,342.00 902.50,342.00 903.00,342.00 903.50,342.00 904.00,342.00 904.50,342.00 905.00,342.00 905.50,342.00 906.00,342.00 906.50,342.00 907.00,342.00 907.50,342.00 908.00,342.00 908.50,342.00 909.00,342.00 909.50,342.00 910.00,342.00 910.50,342.00 911.00,342.00 911.50,342.00 912.00,342.00 912.50,342.00 913.00,342.00 913.50,342.00 914.00,342.00 914.50,342.00 915.00,342.00 915.50,342.00 916.00,342.00 916.50,342.00 917.00,342.00 917.50,342.00 918.00,342.00 918.50,342.00 919.00,342.00 919.50,342.00 920.00,342.00 920.50,342.00 921.00,342.00 921.50,342.00 922.00,342.00 922.50,342.00 923.00,342.00 923.50,342.00 924.00,342.00 924.50,342.00 925.00,342.00 925.50,342.00 926.00,342.00 926.50,342.00 927.00,342.00 927.50,342.00 928.00,342.00 928.50,342.00 929.00,342.00 929.50,342.00 930.00,342.00 930.50,342.00 931.00,342.00 931.50,342.00 932.00,342.00 932.50,342.00 933.00,342.00 933.50,342.00 934.00,342.00 934.50,342.00 935.00,342.00 935.50,342.00 936.00,342.00 936.50,342.00 937.00,342.00 937.50,342.00 938.00,342.00 938.50,342.00 939.00,342.00 939.50,342.00 940.00,342.00 940.50,342.00 941.00,342.00 941.50,342.00 942.00,342.00 942.50,342.00 943.00,342.00 943.50,342.00 944.00,342.00 944.50,342.00 945.00,342.00 945.50,342.00 946.00,342.00 946.50,342.00 947.00,342.00 947.50,342.00 948.00,342.00 948.50,342.00 949.00,342.00 949.50,342.00 950.00,342.00 950.50,342.00 951.00,342.00 951.50,342.00 952.00,342.00 952.50,342.00 953.00,342.00 953.50,342.00 954.00,342.00 954.50,342.00 955.00,342.00 955.50,342.00 956.00,342.00 956.50,342.00 957.00,342.00 957.50,342.00 958.00,342.00 958.50,342.00 959.00,342.00 959.50,342.00 960.00,342.00 960.50,342.00 961.00,342.00 961.50,342.00 962.00,342.00 962.50,342.00 963.00,342.00 963.50,342.00 964.00,342.00 964.50,342.00 965.00,342.00 965.50,342.00 966.00,342.00 966.50,342.00 967.00,342.00 967.50,342.00 968.00,342.00 968.50,342.00 969.00,342.00 969.50,342.00 970.00,342.00 970.50,342.00 971.00,342.00 971.50,342.00 972.00,342.00 972.50,342.00 973.00,342.00 973.50,342.00 974.00,342.00 974.50,342.00 975.00,342.00 975.50,342.00 976.00,342.00 976.50,342.00 977.00,342.00 977.50,342.00 978.00,342.00 978.50,342.00 979.00,342.00 979.50,342.00 980.00,342.00 980.50,342.00" fill="none" stroke="#dcaa3a" stroke-width="3.8" stroke-linejoin="round" stroke-linecap="round" />
<polyline points="562.50,342.00 563.00,342.00 563.50,342.00 564.00,342.00 564.50,342.00 565.00,342.00 565.50,342.00 566.00,342.00 566.50,342.00 567.00,342.00 567.50,342.00 568.00,342.00 568.50,342.00 569.00,342.00 569.50,342.00 570.00,342.00 570.50,342.00 571.00,342.00 571.50,342.00 572.00,342.00 572.50,342.00 573.00,342.00 573.50,342.00 574.00,342.00 574.50,342.00 575.00,342.00 575.50,342.00 576.00,342.00 576.50,342.00 577.00,342.00 577.50,342.00 578.00,342.00 578.50,342.00 579.00,342.00 579.50,342.00 580.00,342.00 580.50,342.00 581.00,342.00 581.50,342.00 582.00,342.00 582.50,342.00 583.00,342.00 583.50,342.00 584.00,342.00 584.50,342.00 585.00,342.00 585.50,342.00 586.00,342.00 586.50,342.00 587.00,342.00 587.50,342.00 588.00,342.00 588.50,342.00 589.00,342.00 589.50,342.00 590.00,342.00 590.50,342.00 591.00,342.00 591.50,342.00 592.00,342.00 592.50,342.00 593.00,342.00 593.50,342.00 594.00,342.00 594.50,342.00 595.00,342.00 595.50,342.00 596.00,342.00 596.50,342.00 597.00,342.00 597.50,342.00 598.00,342.00 598.50,342.00 599.00,342.00 599.50,342.00 600.00,342.00 600.50,342.00 601.00,342.00 601.50,342.00 602.00,342.00 602.50,342.00 603.00,342.00 603.50,342.00 604.00,342.00 604.50,342.00 605.00,342.00 605.50,342.00 606.00,342.00 606.50,342.00 607.00,342.00 607.50,342.00 608.00,342.00 608.50,342.00 609.00,342.00 609.50,342.00 610.00,342.00 610.50,342.00 611.00,342.00 611.50,342.00 612.00,342.00 612.50,342.00 613.00,342.00 613.50,342.00 614.00,342.00 614.50,342.00 615.00,342.00 615.50,342.00 616.00,342.00 616.50,342.00 617.00,342.00 617.50,342.00 618.00,342.00 618.50,342.00 619.00,342.00 619.50,342.00 620.00,342.00 620.50,342.00 621.00,342.00 621.50,342.00 622.00,342.00 622.50,342.00 623.00,342.00 623.50,342.00 624.00,342.00 624.50,342.00 625.00,342.00 625.50,342.00 626.00,342.00 626.50,342.00 627.00,342.00 627.50,342.00 628.00,342.00 628.50,342.00 629.00,342.00 629.50,342.00 630.00,342.00 630.50,342.00 631.00,342.00 631.50,342.00 632.00,342.00 632.50,342.00 633.00,342.00 633.50,342.00 634.00,342.00 634.50,342.00 635.00,342.00 635.50,342.00 636.00,341.99 636.50,341.99 637.00,341.99 637.50,341.98 638.00,341.98 638.50,341.97 639.00,341.96 639.50,341.95 640.00,341.93 640.50,341.91 641.00,341.88 641.50,341.84 642.00,341.79 642.50,341.73 643.00,341.66 643.50,341.57 644.00,341.45 644.50,341.32 645.00,341.15 645.50,340.95 646.00,340.71 646.50,340.43 647.00,340.10 647.50,339.71 648.00,339.27 648.50,338.76 649.00,338.18 649.50,337.52 650.00,336.78 650.50,335.95 651.00,335.03 651.50,334.02 652.00,332.92 652.50,331.72 653.00,330.43 653.50,329.04 654.00,327.57 654.50,326.02 655.00,324.39 655.50,322.69 656.00,320.93 656.50,319.12 657.00,317.27 657.50,315.40 658.00,313.51 658.50,311.63 659.00,309.76 659.50,307.92 660.00,306.12 660.50,304.37 661.00,302.69 661.50,301.09 662.00,299.57 662.50,298.15 663.00,296.84 663.50,295.63 664.00,294.54 664.50,293.56 665.00,292.69 665.50,291.95 666.00,291.31 666.50,290.79 667.00,290.37 667.50,290.04 668.00,289.80 668.50,289.64 669.00,289.55 669.50,289.51 670.00,289.50 670.50,289.51 671.00,289.54 671.50,289.62 672.00,289.76 672.50,289.96 673.00,290.23 673.50,290.58 674.00,291.03 674.50,291.57 675.00,292.20 675.50,292.93 676.00,293.77 676.50,294.70 677.00,295.74 677.50,296.88 678.00,298.11 678.50,299.43 679.00,300.84 679.50,302.32 680.00,303.88 680.50,305.49 681.00,307.16 681.50,308.86 682.00,310.60 682.50,312.36 683.00,314.12 683.50,315.88 684.00,317.63 684.50,319.35 685.00,321.04 685.50,322.68 686.00,324.27 686.50,325.81 687.00,327.27 687.50,328.66 688.00,329.98 688.50,331.22 689.00,332.37 689.50,333.44 690.00,334.43 690.50,335.34 691.00,336.16 691.50,336.91 692.00,337.58 692.50,338.18 693.00,338.71 693.50,339.17 694.00,339.58 694.50,339.93 695.00,340.23 695.50,340.48 696.00,340.69 696.50,340.86 697.00,341.00 697.50,341.10 698.00,341.17 698.50,341.22 699.00,341.24 699.50,341.25 700.00,341.23 700.50,341.19 701.00,341.13 701.50,341.05 702.00,340.95 702.50,340.84 703.00,340.71 703.50,340.56 704.00,340.39 704.50,340.20 705.00,339.98 705.50,339.75 706.00,339.49 706.50,339.20 707.00,338.89 707.50,338.55 708.00,338.18 708.50,337.78 709.00,337.35 709.50,336.89 710.00,336.39 710.50,335.85 711.00,335.27 711.50,334.66 712.00,334.00 712.50,333.31 713.00,332.57 713.50,331.79 714.00,330.96 714.50,330.09 715.00,329.18 715.50,328.22 716.00,327.22 716.50,326.17 717.00,325.08 717.50,323.95 718.00,322.78 718.50,321.56 719.00,320.31 719.50,319.02 720.00,317.70 720.50,316.34 721.00,314.95 721.50,313.53 722.00,312.09 722.50,310.62 723.00,309.13 723.50,307.63 724.00,306.11 724.50,304.58 725.00,303.05 725.50,301.52 726.00,299.98 726.50,298.45 727.00,296.93 727.50,295.42 728.00,293.92 728.50,292.44 729.00,290.99 729.50,289.56 730.00,288.16 730.50,286.80 731.00,285.46 731.50,284.17 732.00,282.92 732.50,281.71 733.00,280.55 733.50,279.43 734.00,278.36 734.50,277.35 735.00,276.38 735.50,275.47 736.00,274.61 736.50,273.81 737.00,273.06 737.50,272.37 738.00,271.73 738.50,271.14 739.00,270.61 739.50,270.12 740.00,269.69 740.50,269.31 741.00,268.98 741.50,268.69 742.00,268.45 742.50,268.24 743.00,268.08 743.50,267.95 744.00,267.85 744.50,267.78 745.00,267.73 745.50,267.71 746.00,267.70 746.50,267.70 747.00,267.70 747.50,267.72 748.00,267.74 748.50,267.78 749.00,267.84 749.50,267.91 750.00,268.01 750.50,268.13 751.00,268.28 751.50,268.46 752.00,268.66 752.50,268.89 753.00,269.15 753.50,269.45 754.00,269.78 754.50,270.14 755.00,270.54 755.50,270.98 756.00,271.45 756.50,271.95 757.00,272.50 757.50,273.08 758.00,273.70 758.50,274.36 759.00,275.06 759.50,275.79 760.00,276.56 760.50,277.37 761.00,278.21 761.50,279.09 762.00,280.00 762.50,280.94 763.00,281.92 763.50,282.93 764.00,283.97 764.50,285.04 765.00,286.13 765.50,287.25 766.00,288.40 766.50,289.56 767.00,290.75 767.50,291.95 768.00,293.17 768.50,294.41 769.00,295.65 769.50,296.91 770.00,298.18 770.50,299.45 771.00,300.72 771.50,302.00 772.00,303.28 772.50,304.55 773.00,305.83 773.50,307.09 774.00,308.34 774.50,309.59 775.00,310.82 775.50,312.04 776.00,313.25 776.50,314.43 777.00,315.60 777.50,316.74 778.00,317.87 778.50,318.97 779.00,320.05 779.50,321.10 780.00,322.12 780.50,323.12 781.00,324.09 781.50,325.03 782.00,325.94 782.50,326.82 783.00,327.67 783.50,328.49 784.00,329.28 784.50,330.04 785.00,330.77 785.50,331.46 786.00,332.13 786.50,332.77 787.00,333.38 787.50,333.96 788.00,334.51 788.50,335.03 789.00,335.52 789.50,335.99 790.00,336.43 790.50,336.85 791.00,337.24 791.50,337.61 792.00,337.96 792.50,338.28 793.00,338.58 793.50,338.87 794.00,339.13 794.50,339.38 795.00,339.60 795.50,339.82 796.00,340.01 796.50,340.19 797.00,340.36 797.50,340.51 798.00,340.65 798.50,340.78 799.00,340.90 799.50,341.01 800.00,341.11 800.50,341.20 801.00,341.29 801.50,341.36 802.00,341.43 802.50,341.49 803.00,341.55 803.50,341.60 804.00,341.64 804.50,341.68 805.00,341.72 805.50,341.75 806.00,341.78 806.50,341.81 807.00,341.83 807.50,341.85 808.00,341.87 808.50,341.89 809.00,341.90 809.50,341.91 810.00,341.93 810.50,341.94 811.00,341.94 811.50,341.95 812.00,341.96 812.50,341.96 813.00,341.97 813.50,341.97 814.00,341.98 814.50,341.98 815.00,341.98 815.50,341.99 816.00,341.99 816.50,341.99 817.00,341.99 817.50,341.99 818.00,341.99 818.50,341.99 819.00,342.00 819.50,342.00 820.00,342.00 820.50,342.00 821.00,342.00 821.50,342.00 822.00,342.00 822.50,342.00 823.00,342.00 823.50,342.00 824.00,342.00 824.50,342.00 825.00,342.00 825.50,342.00 826.00,342.00 826.50,342.00 827.00,342.00 827.50,342.00 828.00,342.00 828.50,342.00 829.00,342.00 829.50,342.00 830.00,342.00 830.50,342.00 831.00,342.00 831.50,342.00 832.00,342.00 832.50,342.00 833.00,342.00 833.50,342.00 834.00,342.00 834.50,342.00 835.00,342.00 835.50,342.00 836.00,342.00 836.50,342.00 837.00,342.00 837.50,342.00 838.00,342.00 838.50,342.00 839.00,342.00 839.50,342.00 840.00,342.00 840.50,342.00 841.00,342.00 841.50,342.00 842.00,342.00 842.50,342.00 843.00,342.00 843.50,342.00 844.00,342.00 844.50,342.00 845.00,342.00 845.50,342.00 846.00,342.00 846.50,342.00 847.00,342.00 847.50,342.00 848.00,342.00 848.50,342.00 849.00,342.00 849.50,342.00 850.00,342.00 850.50,342.00 851.00,342.00 851.50,342.00 852.00,342.00 852.50,342.00 853.00,342.00 853.50,342.00 854.00,342.00 854.50,342.00 855.00,342.00 855.50,342.00 856.00,342.00 856.50,342.00 857.00,342.00 857.50,342.00 858.00,342.00 858.50,342.00 859.00,342.00 859.50,342.00 860.00,342.00 860.50,342.00 861.00,342.00 861.50,342.00 862.00,342.00 862.50,342.00 863.00,342.00 863.50,342.00 864.00,342.00 864.50,342.00 865.00,342.00 865.50,342.00 866.00,342.00 866.50,342.00 867.00,342.00 867.50,342.00 868.00,342.00 868.50,342.00 869.00,342.00 869.50,342.00 870.00,342.00 870.50,342.00 871.00,342.00 871.50,342.00 872.00,342.00 872.50,342.00 873.00,342.00 873.50,342.00 874.00,342.00 874.50,342.00 875.00,342.00 875.50,342.00 876.00,342.00 876.50,342.00 877.00,342.00 877.50,342.00 878.00,342.00 878.50,342.00 879.00,342.00 879.50,342.00 880.00,342.00 880.50,342.00 881.00,342.00 881.50,342.00 882.00,342.00 882.50,342.00 883.00,342.00 883.50,342.00 884.00,342.00 884.50,342.00 885.00,342.00 885.50,342.00 886.00,342.00 886.50,342.00 887.00,342.00 887.50,342.00 888.00,342.00 888.50,342.00 889.00,342.00 889.50,342.00 890.00,342.00 890.50,342.00 891.00,342.00 891.50,342.00 892.00,342.00 892.50,342.00 893.00,342.00 893.50,342.00 894.00,342.00 894.50,342.00 895.00,342.00 895.50,342.00 896.00,342.00 896.50,342.00 897.00,342.00 897.50,342.00 898.00,342.00 898.50,342.00 899.00,342.00 899.50,342.00 900.00,342.00 900.50,342.00 901.00,342.00 901.50,342.00 902.00,342.00 902.50,342.00 903.00,342.00 903.50,342.00 904.00,342.00 904.50,342.00 905.00,342.00 905.50,342.00 906.00,342.00 906.50,342.00 907.00,342.00 907.50,342.00 908.00,342.00 908.50,342.00 909.00,342.00 909.50,342.00 910.00,342.00 910.50,342.00 911.00,342.00 911.50,342.00 912.00,342.00 912.50,342.00 913.00,342.00 913.50,342.00 914.00,342.00 914.50,342.00 915.00,342.00 915.50,342.00 916.00,342.00 916.50,342.00 917.00,342.00 917.50,342.00 918.00,342.00 918.50,342.00 919.00,342.00 919.50,342.00 920.00,342.00 920.50,342.00 921.00,342.00 921.50,342.00 922.00,342.00 922.50,342.00 923.00,342.00 923.50,342.00 924.00,342.00 924.50,342.00 925.00,342.00 925.50,342.00 926.00,342.00 926.50,342.00 927.00,342.00 927.50,342.00 928.00,342.00 928.50,342.00 929.00,342.00 929.50,342.00 930.00,342.00 930.50,342.00 931.00,342.00 931.50,342.00 932.00,342.00 932.50,342.00 933.00,342.00 933.50,342.00 934.00,342.00 934.50,342.00 935.00,342.00 935.50,342.00 936.00,342.00 936.50,342.00 937.00,342.00 937.50,342.00 938.00,342.00 938.50,342.00 939.00,342.00 939.50,342.00 940.00,342.00 940.50,342.00 941.00,342.00 941.50,342.00 942.00,342.00 942.50,342.00 943.00,342.00 943.50,342.00 944.00,342.00 944.50,342.00 945.00,342.00 945.50,342.00 946.00,342.00 946.50,342.00 947.00,342.00 947.50,342.00 948.00,342.00 948.50,342.00 949.00,342.00 949.50,342.00 950.00,342.00 950.50,342.00 951.00,342.00 951.50,342.00 952.00,342.00 952.50,342.00 953.00,342.00 953.50,342.00 954.00,342.00 954.50,342.00 955.00,342.00 955.50,342.00 956.00,342.00 956.50,342.00 957.00,342.00 957.50,342.00 958.00,342.00 958.50,342.00 959.00,342.00 959.50,342.00 960.00,342.00 960.50,342.00 961.00,342.00 961.50,342.00 962.00,342.00 962.50,342.00 963.00,342.00 963.50,342.00 964.00,342.00 964.50,342.00 965.00,342.00 965.50,342.00 966.00,342.00 966.50,342.00 967.00,342.00 967.50,342.00 968.00,342.00 968.50,342.00 969.00,342.00 969.50,342.00 970.00,342.00 970.50,342.00 971.00,342.00 971.50,342.00 972.00,342.00 972.50,342.00 973.00,342.00 973.50,342.00 974.00,342.00 974.50,342.00 975.00,342.00 975.50,342.00 976.00,342.00 976.50,342.00 977.00,342.00 977.50,342.00 978.00,342.00 978.50,342.00 979.00,342.00 979.50,342.00 980.00,342.00 980.50,342.00" fill="none" stroke="#38dc38" stroke-width="3.8" stroke-linejoin="round" stroke-linecap="round" />
<polyline points="562.50,342.00 563.00,342.00 563.50,342.00 564.00,342.00 564.50,342.00 565.00,342.00 565.50,342.00 566.00,342.00 566.50,342.00 567.00,342.00 567.50,342.00 568.00,342.00 568.50,342.00 569.00,342.00 569.50,342.00 570.00,342.00 570.50,342.00 571.00,342.00 571.50,342.00 572.00,342.00 572.50,342.00 573.00,342.00 573.50,342.00 574.00,342.00 574.50,342.00 575.00,342.00 575.50,342.00 576.00,342.00 576.50,342.00 577.00,342.00 577.50,342.00 578.00,342.00 578.50,342.00 579.00,342.00 579.50,342.00 580.00,342.00 580.50,342.00 581.00,342.00 581.50,342.00 582.00,342.00 582.50,342.00 583.00,342.00 583.50,342.00 584.00,342.00 584.50,342.00 585.00,342.00 585.50,342.00 586.00,342.00 586.50,342.00 587.00,342.00 587.50,342.00 588.00,342.00 588.50,342.00 589.00,342.00 589.50,342.00 590.00,342.00 590.50,342.00 591.00,342.00 591.50,342.00 592.00,342.00 592.50,342.00 593.00,342.00 593.50,342.00 594.00,342.00 594.50,342.00 595.00,342.00 595.50,342.00 596.00,342.00 596.50,342.00 597.00,342.00 597.50,342.00 598.00,342.00 598.50,342.00 599.00,342.00 599.50,342.00 600.00,342.00 600.50,342.00 601.00,342.00 601.50,342.00 602.00,342.00 602.50,342.00 603.00,342.00 603.50,342.00 604.00,342.00 604.50,342.00 605.00,342.00 605.50,342.00 606.00,342.00 606.50,342.00 607.00,342.00 607.50,342.00 608.00,342.00 608.50,342.00 609.00,342.00 609.50,342.00 610.00,342.00 610.50,342.00 611.00,342.00 611.50,342.00 612.00,342.00 612.50,342.00 613.00,342.00 613.50,342.00 614.00,342.00 614.50,342.00 615.00,342.00 615.50,342.00 616.00,342.00 616.50,342.00 617.00,342.00 617.50,342.00 618.00,342.00 618.50,342.00 619.00,342.00 619.50,342.00 620.00,342.00 620.50,342.00 621.00,342.00 621.50,342.00 622.00,342.00 622.50,342.00 623.00,342.00 623.50,342.00 624.00,342.00 624.50,342.00 625.00,342.00 625.50,342.00 626.00,342.00 626.50,342.00 627.00,342.00 627.50,342.00 628.00,342.00 628.50,342.00 629.00,342.00 629.50,342.00 630.00,342.00 630.50,342.00 631.00,342.00 631.50,342.00 632.00,342.00 632.50,342.00 633.00,342.00 633.50,342.00 634.00,342.00 634.50,342.00 635.00,342.00 635.50,342.00 636.00,342.00 636.50,342.00 637.00,342.00 637.50,342.00 638.00,341.99 638.50,341.99 639.00,341.99 639.50,341.98 640.00,341.98 640.50,341.97 641.00,341.96 641.50,341.94 642.00,341.92 642.50,341.90 643.00,341.87 643.50,341.84 644.00,341.79 644.50,341.74 645.00,341.67 645.50,341.59 646.00,341.49 646.50,341.37 647.00,341.23 647.50,341.06 648.00,340.87 648.50,340.64 649.00,340.38 649.50,340.09 650.00,339.75 650.50,339.37 651.00,338.94 651.50,338.46 652.00,337.93 652.50,337.36 653.00,336.72 653.50,336.04 654.00,335.31 654.50,334.52 655.00,333.69 655.50,332.82 656.00,331.90 656.50,330.95 657.00,329.96 657.50,328.95 658.00,327.93 658.50,326.89 659.00,325.85 659.50,324.81 660.00,323.78 660.50,322.77 661.00,321.79 661.50,320.84 662.00,319.93 662.50,319.06 663.00,318.24 663.50,317.48 664.00,316.78 664.50,316.14 665.00,315.56 665.50,315.04 666.00,314.59 666.50,314.20 667.00,313.88 667.50,313.61 668.00,313.40 668.50,313.24 669.00,313.13 669.50,313.05 670.00,313.02 670.50,313.00 671.00,313.00 671.50,313.01 672.00,313.04 672.50,313.09 673.00,313.18 673.50,313.31 674.00,313.48 674.50,313.69 675.00,313.96 675.50,314.27 676.00,314.65 676.50,315.07 677.00,315.56 677.50,316.10 678.00,316.69 678.50,317.34 679.00,318.04 679.50,318.79 680.00,319.59 680.50,320.42 681.00,321.29 681.50,322.20 682.00,323.13 682.50,324.08 683.00,325.04 683.50,326.02 684.00,326.99 684.50,327.96 685.00,328.92 685.50,329.87 686.00,330.79 686.50,331.69 687.00,332.55 687.50,333.38 688.00,334.18 688.50,334.93 689.00,335.64 689.50,336.31 690.00,336.93 690.50,337.50 691.00,338.03 691.50,338.52 692.00,338.96 692.50,339.35 693.00,339.71 693.50,340.03 694.00,340.31 694.50,340.56 695.00,340.77 695.50,340.96 696.00,341.12 696.50,341.25 697.00,341.37 697.50,341.46 698.00,341.54 698.50,341.60 699.00,341.65 699.50,341.68 700.00,341.70 700.50,341.71 701.00,341.72 701.50,341.71 702.00,341.69 702.50,341.67 703.00,341.64 703.50,341.60 704.00,341.56 704.50,341.50 705.00,341.44 705.50,341.37 706.00,341.29 706.50,341.20 707.00,341.10 707.50,340.99 708.00,340.86 708.50,340.73 709.00,340.57 709.50,340.41 710.00,340.23 710.50,340.03 711.00,339.81 711.50,339.58 712.00,339.32 712.50,339.04 713.00,338.74 713.50,338.42 714.00,338.07 714.50,337.70 715.00,337.30 715.50,336.87 716.00,336.42 716.50,335.93 717.00,335.41 717.50,334.87 718.00,334.29 718.50,333.67 719.00,333.03 719.50,332.35 720.00,331.64 720.50,330.89 721.00,330.11 721.50,329.30 722.00,328.45 722.50,327.57 723.00,326.66 723.50,325.72 724.00,324.74 724.50,323.74 725.00,322.71 725.50,321.65 726.00,320.56 726.50,319.46 727.00,318.33 727.50,317.18 728.00,316.01 728.50,314.82 729.00,313.63 729.50,312.42 730.00,311.20 730.50,309.98 731.00,308.75 731.50,307.52 732.00,306.29 732.50,305.07 733.00,303.85 733.50,302.65 734.00,301.45 734.50,300.27 735.00,299.11 735.50,297.96 736.00,296.84 736.50,295.75 737.00,294.68 737.50,293.63 738.00,292.62 738.50,291.64 739.00,290.70 739.50,289.79 740.00,288.92 740.50,288.08 741.00,287.29 741.50,286.53 742.00,285.82 742.50,285.14 743.00,284.51 743.50,283.92 744.00,283.37 744.50,282.86 745.00,282.39 745.50,281.96 746.00,281.58 746.50,281.23 747.00,280.91 747.50,280.64 748.00,280.40 748.50,280.19 749.00,280.02 749.50,279.87 750.00,279.76 750.50,279.66 751.00,279.60 751.50,279.55 752.00,279.52 752.50,279.50 753.00,279.50 753.50,279.50 754.00,279.51 754.50,279.52 755.00,279.54 755.50,279.57 756.00,279.62 756.50,279.68 757.00,279.75 757.50,279.84 758.00,279.95 758.50,280.08 759.00,280.22 759.50,280.38 760.00,280.57 760.50,280.77 761.00,281.00 761.50,281.25 762.00,281.52 762.50,281.81 763.00,282.13 763.50,282.47 764.00,282.83 764.50,283.22 765.00,283.63 765.50,284.07 766.00,284.53 766.50,285.01 767.00,285.52 767.50,286.04 768.00,286.60 768.50,287.17 769.00,287.77 769.50,288.39 770.00,289.03 770.50,289.69 771.00,290.38 771.50,291.08 772.00,291.80 772.50,292.54 773.00,293.30 773.50,294.08 774.00,294.87 774.50,295.68 775.00,296.50 775.50,297.33 776.00,298.18 776.50,299.04 777.00,299.91 777.50,300.78 778.00,301.67 778.50,302.57 779.00,303.47 779.50,304.37 780.00,305.28 780.50,306.19 781.00,307.11 781.50,308.02 782.00,308.94 782.50,309.85 783.00,310.76 783.50,311.67 784.00,312.57 784.50,313.46 785.00,314.35 785.50,315.24 786.00,316.11 786.50,316.98 787.00,317.83 787.50,318.67 788.00,319.51 788.50,320.32 789.00,321.13 789.50,321.92 790.00,322.70 790.50,323.46 791.00,324.21 791.50,324.94 792.00,325.66 792.50,326.35 793.00,327.03 793.50,327.70 794.00,328.34 794.50,328.97 795.00,329.58 795.50,330.17 796.00,330.74 796.50,331.30 797.00,331.83 797.50,332.35 798.00,332.85 798.50,333.33 799.00,333.80 799.50,334.24 800.00,334.67 800.50,335.08 801.00,335.48 801.50,335.85 802.00,336.21 802.50,336.56 803.00,336.89 803.50,337.20 804.00,337.50 804.50,337.78 805.00,338.05 805.50,338.31 806.00,338.55 806.50,338.78 807.00,339.00 807.50,339.21 808.00,339.40 808.50,339.58 809.00,339.76 809.50,339.92 810.00,340.07 810.50,340.21 811.00,340.35 811.50,340.47 812.00,340.59 812.50,340.70 813.00,340.80 813.50,340.90 814.00,340.99 814.50,341.07 815.00,341.15 815.50,341.22 816.00,341.28 816.50,341.35 817.00,341.40 817.50,341.46 818.00,341.50 818.50,341.55 819.00,341.59 819.50,341.63 820.00,341.66 820.50,341.69 821.00,341.72 821.50,341.75 822.00,341.77 822.50,341.79 823.00,341.81 823.50,341.83 824.00,341.85 824.50,341.87 825.00,341.88 825.50,341.89 826.00,341.90 826.50,341.91 827.00,341.92 827.50,341.93 828.00,341.94 828.50,341.95 829.00,341.95 829.50,341.96 830.00,341.96 830.50,341.97 831.00,341.97 831.50,341.97 832.00,341.98 832.50,341.98 833.00,341.98 833.50,341.98 834.00,341.99 834.50,341.99 835.00,341.99 835.50,341.99 836.00,341.99 836.50,341.99 837.00,341.99 837.50,341.99 838.00,342.00 838.50,342.00 839.00,342.00 839.50,342.00 840.00,342.00 840.50,342.00 841.00,342.00 841.50,342.00 842.00,342.00 842.50,342.00 843.00,342.00 843.50,342.00 844.00,342.00 844.50,342.00 845.00,342.00 845.50,342.00 846.00,342.00 846.50,342.00 847.00,342.00 847.50,342.00 848.00,342.00 848.50,342.00 849.00,342.00 849.50,342.00 850.00,342.00 850.50,342.00 851.00,342.00 851.50,342.00 852.00,342.00 852.50,342.00 853.00,342.00 853.50,342.00 854.00,342.00 854.50,342.00 855.00,342.00 855.50,342.00 856.00,342.00 856.50,342.00 857.00,342.00 857.50,342.00 858.00,342.00 858.50,342.00 859.00,342.00 859.50,342.00 860.00,342.00 860.50,342.00 861.00,342.00 861.50,342.00 862.00,342.00 862.50,342.00 863.00,342.00 863.50,342.00 864.00,342.00 864.50,342.00 865.00,342.00 865.50,342.00 866.00,342.00 866.50,342.00 867.00,342.00 867.50,342.00 868.00,342.00 868.50,342.00 869.00,342.00 869.50,342.00 870.00,342.00 870.50,342.00 871.00,342.00 871.50,342.00 872.00,342.00 872.50,342.00 873.00,342.00 873.50,342.00 874.00,342.00 874.50,342.00 875.00,342.00 875.50,342.00 876.00,342.00 876.50,342.00 877.00,342.00 877.50,342.00 878.00,342.00 878.50,342.00 879.00,342.00 879.50,342.00 880.00,342.00 880.50,342.00 881.00,342.00 881.50,342.00 882.00,342.00 882.50,342.00 883.00,342.00 883.50,342.00 884.00,342.00 884.50,342.00 885.00,342.00 885.50,342.00 886.00,342.00 886.50,342.00 887.00,342.00 887.50,342.00 888.00,342.00 888.50,342.00 889.00,342.00 889.50,342.00 890.00,342.00 890.50,342.00 891.00,342.00 891.50,342.00 892.00,342.00 892.50,342.00 893.00,342.00 893.50,342.00 894.00,342.00 894.50,342.00 895.00,342.00 895.50,342.00 896.00,342.00 896.50,342.00 897.00,342.00 897.50,342.00 898.00,342.00 898.50,342.00 899.00,342.00 899.50,342.00 900.00,342.00 900.50,342.00 901.00,342.00 901.50,342.00 902.00,342.00 902.50,342.00 903.00,342.00 903.50,342.00 904.00,342.00 904.50,342.00 905.00,342.00 905.50,342.00 906.00,342.00 906.50,342.00 907.00,342.00 907.50,342.00 908.00,342.00 908.50,342.00 909.00,342.00 909.50,342.00 910.00,342.00 910.50,342.00 911.00,342.00 911.50,342.00 912.00,342.00 912.50,342.00 913.00,342.00 913.50,342.00 914.00,342.00 914.50,342.00 915.00,342.00 915.50,342.00 916.00,342.00 916.50,342.00 917.00,342.00 917.50,342.00 918.00,342.00 918.50,342.00 919.00,342.00 919.50,342.00 920.00,342.00 920.50,342.00 921.00,342.00 921.50,342.00 922.00,342.00 922.50,342.00 923.00,342.00 923.50,342.00 924.00,342.00 924.50,342.00 925.00,342.00 925.50,342.00 926.00,342.00 926.50,342.00 927.00,342.00 927.50,342.00 928.00,342.00 928.50,342.00 929.00,342.00 929.50,342.00 930.00,342.00 930.50,342.00 931.00,342.00 931.50,342.00 932.00,342.00 932.50,342.00 933.00,342.00 933.50,342.00 934.00,342.00 934.50,342.00 935.00,342.00 935.50,342.00 936.00,342.00 936.50,342.00 937.00,342.00 937.50,342.00 938.00,342.00 938.50,342.00 939.00,342.00 939.50,342.00 940.00,342.00 940.50,342.00 941.00,342.00 941.50,342.00 942.00,342.00 942.50,342.00 943.00,342.00 943.50,342.00 944.00,342.00 944.50,342.00 945.00,342.00 945.50,342.00 946.00,342.00 946.50,342.00 947.00,342.00 947.50,342.00 948.00,342.00 948.50,342.00 949.00,342.00 949.50,342.00 950.00,342.00 950.50,342.00 951.00,342.00 951.50,342.00 952.00,342.00 952.50,342.00 953.00,342.00 953.50,342.00 954.00,342.00 954.50,342.00 955.00,342.00 955.50,342.00 956.00,342.00 956.50,342.00 957.00,342.00 957.50,342.00 958.00,342.00 958.50,342.00 959.00,342.00 959.50,342.00 960.00,342.00 960.50,342.00 961.00,342.00 961.50,342.00 962.00,342.00 962.50,342.00 963.00,342.00 963.50,342.00 964.00,342.00 964.50,342.00 965.00,342.00 965.50,342.00 966.00,342.00 966.50,342.00 967.00,342.00 967.50,342.00 968.00,342.00 968.50,342.00 969.00,342.00 969.50,342.00 970.00,342.00 970.50,342.00 971.00,342.00 971.50,342.00 972.00,342.00 972.50,342.00 973.00,342.00 973.50,342.00 974.00,342.00 974.50,342.00 975.00,342.00 975.50,342.00 976.00,342.00 976.50,342.00 977.00,342.00 977.50,342.00 978.00,342.00 978.50,342.00 979.00,342.00 979.50,342.00 980.00,342.00 980.50,342.00" fill="none" stroke="#40dde2" stroke-width="3.8" stroke-linejoin="round" stroke-linecap="round" />
<polyline points="562.50,342.00 563.00,342.00 563.50,342.00 564.00,342.00 564.50,342.00 565.00,342.00 565.50,342.00 566.00,342.00 566.50,342.00 567.00,342.00 567.50,342.00 568.00,342.00 568.50,342.00 569.00,342.00 569.50,342.00 570.00,342.00 570.50,342.00 571.00,342.00 571.50,342.00 572.00,342.00 572.50,342.00 573.00,342.00 573.50,342.00 574.00,342.00 574.50,342.00 575.00,342.00 575.50,342.00 576.00,342.00 576.50,342.00 577.00,342.00 577.50,342.00 578.00,342.00 578.50,342.00 579.00,342.00 579.50,342.00 580.00,342.00 580.50,342.00 581.00,342.00 581.50,342.00 582.00,342.00 582.50,342.00 583.00,342.00 583.50,342.00 584.00,342.00 584.50,342.00 585.00,342.00 585.50,342.00 586.00,342.00 586.50,342.00 587.00,342.00 587.50,342.00 588.00,342.00 588.50,342.00 589.00,342.00 589.50,342.00 590.00,342.00 590.50,342.00 591.00,342.00 591.50,342.00 592.00,342.00 592.50,342.00 593.00,342.00 593.50,342.00 594.00,342.00 594.50,342.00 595.00,342.00 595.50,342.00 596.00,342.00 596.50,342.00 597.00,342.00 597.50,342.00 598.00,342.00 598.50,342.00 599.00,342.00 599.50,342.00 600.00,342.00 600.50,342.00 601.00,342.00 601.50,342.00 602.00,342.00 602.50,342.00 603.00,342.00 603.50,342.00 604.00,342.00 604.50,342.00 605.00,342.00 605.50,342.00 606.00,342.00 606.50,342.00 607.00,342.00 607.50,342.00 608.00,342.00 608.50,342.00 609.00,342.00 609.50,342.00 610.00,342.00 610.50,342.00 611.00,342.00 611.50,342.00 612.00,342.00 612.50,342.00 613.00,342.00 613.50,342.00 614.00,342.00 614.50,342.00 615.00,342.00 615.50,342.00 616.00,342.00 616.50,342.00 617.00,342.00 617.50,342.00 618.00,342.00 618.50,342.00 619.00,342.00 619.50,342.00 620.00,342.00 620.50,342.00 621.00,342.00 621.50,342.00 622.00,342.00 622.50,342.00 623.00,342.00 623.50,342.00 624.00,342.00 624.50,342.00 625.00,342.00 625.50,342.00 626.00,342.00 626.50,342.00 627.00,342.00 627.50,342.00 628.00,342.00 628.50,342.00 629.00,342.00 629.50,342.00 630.00,342.00 630.50,342.00 631.00,342.00 631.50,342.00 632.00,342.00 632.50,342.00 633.00,342.00 633.50,342.00 634.00,342.00 634.50,342.00 635.00,342.00 635.50,342.00 636.00,342.00 636.50,342.00 637.00,342.00 637.50,342.00 638.00,342.00 638.50,342.00 639.00,342.00 639.50,342.00 640.00,342.00 640.50,342.00 641.00,342.00 641.50,342.00 642.00,342.00 642.50,342.00 643.00,342.00 643.50,342.00 644.00,342.00 644.50,342.00 645.00,342.00 645.50,342.00 646.00,341.99 646.50,341.99 647.00,341.99 647.50,341.99 648.00,341.98 648.50,341.98 649.00,341.97 649.50,341.96 650.00,341.95 650.50,341.94 651.00,341.92 651.50,341.90 652.00,341.88 652.50,341.85 653.00,341.82 653.50,341.78 654.00,341.74 654.50,341.69 655.00,341.63 655.50,341.56 656.00,341.48 656.50,341.39 657.00,341.29 657.50,341.18 658.00,341.06 658.50,340.92 659.00,340.77 659.50,340.61 660.00,340.44 660.50,340.25 661.00,340.05 661.50,339.83 662.00,339.61 662.50,339.37 663.00,339.13 663.50,338.88 664.00,338.62 664.50,338.35 665.00,338.09 665.50,337.81 666.00,337.54 666.50,337.27 667.00,337.01 667.50,336.75 668.00,336.50 668.50,336.25 669.00,336.02 669.50,335.79 670.00,335.58 670.50,335.39 671.00,335.20 671.50,335.04 672.00,334.89 672.50,334.75 673.00,334.64 673.50,334.53 674.00,334.45 674.50,334.38 675.00,334.32 675.50,334.27 676.00,334.24 676.50,334.22 677.00,334.21 677.50,334.20 678.00,334.20 678.50,334.20 679.00,334.21 679.50,334.22 680.00,334.23 680.50,334.26 681.00,334.30 681.50,334.35 682.00,334.41 682.50,334.48 683.00,334.57 683.50,334.67 684.00,334.79 684.50,334.91 685.00,335.06 685.50,335.22 686.00,335.39 686.50,335.57 687.00,335.77 687.50,335.97 688.00,336.19 688.50,336.42 689.00,336.65 689.50,336.89 690.00,337.14 690.50,337.39 691.00,337.65 691.50,337.90 692.00,338.15 692.50,338.40 693.00,338.65 693.50,338.89 694.00,339.13 694.50,339.36 695.00,339.58 695.50,339.79 696.00,339.99 696.50,340.19 697.00,340.37 697.50,340.54 698.00,340.69 698.50,340.84 699.00,340.97 699.50,341.10 700.00,341.21 700.50,341.31 701.00,341.40 701.50,341.48 702.00,341.56 702.50,341.62 703.00,341.68 703.50,341.73 704.00,341.77 704.50,341.81 705.00,341.84 705.50,341.87 706.00,341.89 706.50,341.91 707.00,341.93 707.50,341.94 708.00,341.95 708.50,341.96 709.00,341.97 709.50,341.98 710.00,341.98 710.50,341.98 711.00,341.99 711.50,341.99 712.00,341.99 712.50,341.99 713.00,341.99 713.50,341.99 714.00,341.99 714.50,341.99 715.00,341.99 715.50,341.99 716.00,341.99 716.50,341.99 717.00,341.99 717.50,341.98 718.00,341.98 718.50,341.98 719.00,341.97 719.50,341.97 720.00,341.96 720.50,341.96 721.00,341.95 721.50,341.94 722.00,341.94 722.50,341.93 723.00,341.92 723.50,341.90 724.00,341.89 724.50,341.87 725.00,341.85 725.50,341.83 726.00,341.81 726.50,341.79 727.00,341.76 727.50,341.73 728.00,341.69 728.50,341.66 729.00,341.61 729.50,341.57 730.00,341.51 730.50,341.46 731.00,341.40 731.50,341.33 732.00,341.25 732.50,341.17 733.00,341.08 733.50,340.99 734.00,340.88 734.50,340.77 735.00,340.65 735.50,340.52 736.00,340.37 736.50,340.22 737.00,340.06 737.50,339.88 738.00,339.70 738.50,339.50 739.00,339.29 739.50,339.07 740.00,338.83 740.50,338.58 741.00,338.31 741.50,338.03 742.00,337.74 742.50,337.43 743.00,337.11 743.50,336.77 744.00,336.42 744.50,336.05 745.00,335.67 745.50,335.27 746.00,334.86 746.50,334.43 747.00,333.99 747.50,333.54 748.00,333.07 748.50,332.59 749.00,332.10 749.50,331.60 750.00,331.09 750.50,330.56 751.00,330.03 751.50,329.49 752.00,328.94 752.50,328.39 753.00,327.83 753.50,327.26 754.00,326.69 754.50,326.12 755.00,325.55 755.50,324.98 756.00,324.40 756.50,323.83 757.00,323.27 757.50,322.70 758.00,322.14 758.50,321.59 759.00,321.05 759.50,320.51 760.00,319.98 760.50,319.47 761.00,318.96 761.50,318.47 762.00,317.99 762.50,317.52 763.00,317.07 763.50,316.63 764.00,316.21 764.50,315.80 765.00,315.42 765.50,315.04 766.00,314.69 766.50,314.36 767.00,314.04 767.50,313.74 768.00,313.46 768.50,313.20 769.00,312.95 769.50,312.73 770.00,312.52 770.50,312.33 771.00,312.15 771.50,312.00 772.00,311.86 772.50,311.73 773.00,311.62 773.50,311.53 774.00,311.45 774.50,311.38 775.00,311.33 775.50,311.28 776.00,311.25 776.50,311.23 777.00,311.21 777.50,311.20 778.00,311.20 778.50,311.20 779.00,311.21 779.50,311.22 780.00,311.24 780.50,311.28 781.00,311.32 781.50,311.37 782.00,311.43 782.50,311.49 783.00,311.57 783.50,311.65 784.00,311.74 784.50,311.84 785.00,311.95 785.50,312.07 786.00,312.19 786.50,312.32 787.00,312.46 787.50,312.61 788.00,312.77 788.50,312.93 789.00,313.10 789.50,313.28 790.00,313.46 790.50,313.65 791.00,313.85 791.50,314.06 792.00,314.27 792.50,314.48 793.00,314.71 793.50,314.93 794.00,315.17 794.50,315.41 795.00,315.65 795.50,315.90 796.00,316.16 796.50,316.42 797.00,316.69 797.50,316.95 798.00,317.23 798.50,317.50 799.00,317.79 799.50,318.07 800.00,318.36 800.50,318.65 801.00,318.94 801.50,319.24 802.00,319.54 802.50,319.84 803.00,320.14 803.50,320.45 804.00,320.76 804.50,321.07 805.00,321.38 805.50,321.69 806.00,322.00 806.50,322.31 807.00,322.63 807.50,322.94 808.00,323.26 808.50,323.57 809.00,323.89 809.50,324.20 810.00,324.51 810.50,324.83 811.00,325.14 811.50,325.45 812.00,325.76 812.50,326.07 813.00,326.38 813.50,326.68 814.00,326.98 814.50,327.29 815.00,327.59 815.50,327.89 816.00,328.18 816.50,328.47 817.00,328.76 817.50,329.05 818.00,329.34 818.50,329.62 819.00,329.90 819.50,330.18 820.00,330.45 820.50,330.72 821.00,330.99 821.50,331.25 822.00,331.52 822.50,331.77 823.00,332.03 823.50,332.28 824.00,332.52 824.50,332.77 825.00,333.01 825.50,333.24 826.00,333.47 826.50,333.70 827.00,333.93 827.50,334.15 828.00,334.36 828.50,334.58 829.00,334.79 829.50,334.99 830.00,335.19 830.50,335.39 831.00,335.58 831.50,335.77 832.00,335.96 832.50,336.14 833.00,336.32 833.50,336.49 834.00,336.66 834.50,336.83 835.00,336.99 835.50,337.15 836.00,337.30 836.50,337.46 837.00,337.60 837.50,337.75 838.00,337.89 838.50,338.03 839.00,338.16 839.50,338.29 840.00,338.42 840.50,338.54 841.00,338.66 841.50,338.78 842.00,338.89 842.50,339.00 843.00,339.11 843.50,339.21 844.00,339.31 844.50,339.41 845.00,339.51 845.50,339.60 846.00,339.69 846.50,339.78 847.00,339.86 847.50,339.94 848.00,340.02 848.50,340.10 849.00,340.17 849.50,340.25 850.00,340.32 850.50,340.38 851.00,340.45 851.50,340.51 852.00,340.57 852.50,340.63 853.00,340.69 853.50,340.74 854.00,340.79 854.50,340.84 855.00,340.89 855.50,340.94 856.00,340.99 856.50,341.03 857.00,341.07 857.50,341.11 858.00,341.15 858.50,341.19 859.00,341.23 859.50,341.26 860.00,341.29 860.50,341.33 861.00,341.36 861.50,341.39 862.00,341.41 862.50,341.44 863.00,341.47 863.50,341.49 864.00,341.52 864.50,341.54 865.00,341.56 865.50,341.58 866.00,341.60 866.50,341.62 867.00,341.64 867.50,341.66 868.00,341.67 868.50,341.69 869.00,341.71 869.50,341.72 870.00,341.74 870.50,341.75 871.00,341.76 871.50,341.77 872.00,341.79 872.50,341.80 873.00,341.81 873.50,341.82 874.00,341.83 874.50,341.84 875.00,341.84 875.50,341.85 876.00,341.86 876.50,341.87 877.00,341.88 877.50,341.88 878.00,341.89 878.50,341.89 879.00,341.90 879.50,341.91 880.00,341.91 880.50,341.92 881.00,341.92 881.50,341.93 882.00,341.93 882.50,341.93 883.00,341.94 883.50,341.94 884.00,341.94 884.50,341.95 885.00,341.95 885.50,341.95 886.00,341.96 886.50,341.96 887.00,341.96 887.50,341.96 888.00,341.97 888.50,341.97 889.00,341.97 889.50,341.97 890.00,341.97 890.50,341.98 891.00,341.98 891.50,341.98 892.00,341.98 892.50,341.98 893.00,341.98 893.50,341.98 894.00,341.98 894.50,341.99 895.00,341.99 895.50,341.99 896.00,341.99 896.50,341.99 897.00,341.99 897.50,341.99 898.00,341.99 898.50,341.99 899.00,341.99 899.50,341.99 900.00,341.99 900.50,341.99 901.00,341.99 901.50,341.99 902.00,341.99 902.50,342.00 903.00,342.00 903.50,342.00 904.00,342.00 904.50,342.00 905.00,342.00 905.50,342.00 906.00,342.00 906.50,342.00 907.00,342.00 907.50,342.00 908.00,342.00 908.50,342.00 909.00,342.00 909.50,342.00 910.00,342.00 910.50,342.00 911.00,342.00 911.50,342.00 912.00,342.00 912.50,342.00 913.00,342.00 913.50,342.00 914.00,342.00 914.50,342.00 915.00,342.00 915.50,342.00 916.00,342.00 916.50,342.00 917.00,342.00 917.50,342.00 918.00,342.00 918.50,342.00 919.00,342.00 919.50,342.00 920.00,342.00 920.50,342.00 921.00,342.00 921.50,342.00 922.00,342.00 922.50,342.00 923.00,342.00 923.50,342.00 924.00,342.00 924.50,342.00 925.00,342.00 925.50,342.00 926.00,342.00 926.50,342.00 927.00,342.00 927.50,342.00 928.00,342.00 928.50,342.00 929.00,342.00 929.50,342.00 930.00,342.00 930.50,342.00 931.00,342.00 931.50,342.00 932.00,342.00 932.50,342.00 933.00,342.00 933.50,342.00 934.00,342.00 934.50,342.00 935.00,342.00 935.50,342.00 936.00,342.00 936.50,342.00 937.00,342.00 937.50,342.00 938.00,342.00 938.50,342.00 939.00,342.00 939.50,342.00 940.00,342.00 940.50,342.00 941.00,342.00 941.50,342.00 942.00,342.00 942.50,342.00 943.00,342.00 943.50,342.00 944.00,342.00 944.50,342.00 945.00,342.00 945.50,342.00 946.00,342.00 946.50,342.00 947.00,342.00 947.50,342.00 948.00,342.00 948.50,342.00 949.00,342.00 949.50,342.00 950.00,342.00 950.50,342.00 951.00,342.00 951.50,342.00 952.00,342.00 952.50,342.00 953.00,342.00 953.50,342.00 954.00,342.00 954.50,342.00 955.00,342.00 955.50,342.00 956.00,342.00 956.50,342.00 957.00,342.00 957.50,342.00 958.00,342.00 958.50,342.00 959.00,342.00 959.50,342.00 960.00,342.00 960.50,342.00 961.00,342.00 961.50,342.00 962.00,342.00 962.50,342.00 963.00,342.00 963.50,342.00 964.00,342.00 964.50,342.00 965.00,342.00 965.50,342.00 966.00,342.00 966.50,342.00 967.00,342.00 967.50,342.00 968.00,342.00 968.50,342.00 969.00,342.00 969.50,342.00 970.00,342.00 970.50,342.00 971.00,342.00 971.50,342.00 972.00,342.00 972.50,342.00 973.00,342.00 973.50,342.00 974.00,342.00 974.50,342.00 975.00,342.00 975.50,342.00 976.00,342.00 976.50,342.00 977.00,342.00 977.50,342.00 978.00,342.00 978.50,342.00 979.00,342.00 979.50,342.00 980.00,342.00 980.50,342.00" fill="none" stroke="#0c18a4" stroke-width="3.8" stroke-linejoin="round" stroke-linecap="round" />
</g>
<text x="565.30" y="359.20" font-size="12.2" text-anchor="end" font-weight="normal" fill="#1e1e1e" stroke="#1e1e1e" stroke-width="0.22" dominant-baseline="central" >10</text>
<text x="566.80" y="354.40" font-size="10" text-anchor="start" font-weight="normal" fill="#1e1e1e" stroke="#1e1e1e" stroke-width="0.22" dominant-baseline="central" >0</text>
<text x="691.93" y="359.20" font-size="12.2" text-anchor="end" font-weight="normal" fill="#1e1e1e" stroke="#1e1e1e" stroke-width="0.22" dominant-baseline="central" >10</text>
<text x="693.43" y="354.40" font-size="10" text-anchor="start" font-weight="normal" fill="#1e1e1e" stroke="#1e1e1e" stroke-width="0.22" dominant-baseline="central" >1</text>
<text x="818.55" y="359.20" font-size="12.2" text-anchor="end" font-weight="normal" fill="#1e1e1e" stroke="#1e1e1e" stroke-width="0.22" dominant-baseline="central" >10</text>
<text x="820.05" y="354.40" font-size="10" text-anchor="start" font-weight="normal" fill="#1e1e1e" stroke="#1e1e1e" stroke-width="0.22" dominant-baseline="central" >2</text>
<text x="945.18" y="359.20" font-size="12.2" text-anchor="end" font-weight="normal" fill="#1e1e1e" stroke="#1e1e1e" stroke-width="0.22" dominant-baseline="central" >10</text>
<text x="946.68" y="354.40" font-size="10" text-anchor="start" font-weight="normal" fill="#1e1e1e" stroke="#1e1e1e" stroke-width="0.22" dominant-baseline="central" >3</text>
<text x="520.00" y="176.75" font-size="11.4" text-anchor="middle" font-weight="bold" fill="#111" stroke="#111" stroke-width="0.15" dominant-baseline="central" transform="rotate(-90 520.00 176.75)" textLength="138.5" lengthAdjust="spacingAndGlyphs">intensity distribution</text>
<text x="771.30" y="378.30" font-size="13.8" text-anchor="middle" font-weight="bold" fill="#111" stroke="#111" stroke-width="0.15" dominant-baseline="central" >diameter (nm)</text>
<path d="M586.0,298.8 Q578.8,312 586.0,325.2 M592.2,301.2 L592.2,319.6 M591.2,302.2 L597.6,302.2 Q602.2,302.2 602.2,306.0 Q602.2,310.4 597.6,310.4 L592.2,310.4 M592.2,310.4 L598.4,310.4 Q603.6,310.4 603.6,314.9 Q603.6,318.6 598.4,318.6 L591.2,318.6 M607.4,298.8 Q614.6,312 607.4,325.2" fill="none" stroke="#1c1f3f" stroke-width="2.4"/>
<rect x="878.30" y="22.90" width="90.00" height="101.80" fill="#fff" stroke="#444" stroke-width="1"/>
<line x1="878.30" y1="40.90" x2="968.30" y2="40.90" stroke="#444" stroke-width="1" />
<text x="923.40" y="32.50" font-size="11.4" text-anchor="middle" font-weight="bold" fill="#111" stroke="#111" stroke-width="0.15" dominant-baseline="central" >timepoint (min)</text>
<line x1="893.30" y1="51.10" x2="931.80" y2="51.10" stroke="#c0282d" stroke-width="3.6" />
<text x="944.30" y="51.70" font-size="11.8" text-anchor="middle" font-weight="bold" fill="#111" stroke="#111" stroke-width="0.15" dominant-baseline="central" >0</text>
<line x1="893.30" y1="67.20" x2="931.80" y2="67.20" stroke="#d8a84a" stroke-width="3.6" />
<text x="944.30" y="67.80" font-size="11.8" text-anchor="middle" font-weight="bold" fill="#111" stroke="#111" stroke-width="0.15" dominant-baseline="central" >5</text>
<line x1="893.30" y1="83.20" x2="931.80" y2="83.20" stroke="#40d040" stroke-width="3.6" />
<text x="944.30" y="83.80" font-size="11.8" text-anchor="middle" font-weight="bold" fill="#111" stroke="#111" stroke-width="0.15" dominant-baseline="central" >30</text>
<line x1="893.30" y1="98.80" x2="931.80" y2="98.80" stroke="#40d8e0" stroke-width="3.6" />
<text x="944.30" y="99.40" font-size="11.8" text-anchor="middle" font-weight="bold" fill="#111" stroke="#111" stroke-width="0.15" dominant-baseline="central" >80</text>
<line x1="893.30" y1="114.90" x2="931.80" y2="114.90" stroke="#101880" stroke-width="3.6" />
<text x="944.30" y="115.50" font-size="11.8" text-anchor="middle" font-weight="bold" fill="#111" stroke="#111" stroke-width="0.15" dominant-baseline="central" >500</text>
<rect x="767.20" y="136.00" width="177.00" height="120.00" fill="#fff" stroke="none" stroke-width="1"/>
<g clip-path="url(#clipI)">
<polyline points="767.50,220.60 768.50,221.04 769.50,221.93 770.50,222.82 771.50,223.71 772.50,224.19 773.50,223.85 774.50,223.10 775.50,222.35 776.50,221.36 777.50,219.90 778.50,218.20 779.50,215.41 780.50,210.45 781.50,204.15 782.50,197.35 783.50,190.55 784.50,184.25 785.50,178.45 786.50,173.15 787.50,168.36 788.50,164.10 789.50,160.93 790.50,159.43 791.50,160.10 792.50,162.49 793.50,165.65 794.50,168.48 795.50,169.87 796.50,169.78 797.50,168.94 798.50,168.01 799.50,166.90 800.50,165.70 801.50,164.55 802.50,163.50 803.50,163.05 804.50,163.70 805.50,164.90 806.50,166.37 807.50,168.38 808.50,170.65 809.50,172.93 810.50,174.95 811.50,176.46 812.50,177.72 813.50,178.98 814.50,180.24 815.50,181.61 816.50,183.20 817.50,184.90 818.50,186.60 819.50,188.30 820.50,189.73 821.50,190.63 822.50,191.27 823.50,191.90 824.50,192.53 825.50,193.17 826.50,193.87 827.50,194.73 828.50,195.65 829.50,196.57 830.50,197.22 831.50,197.32 832.50,197.14 833.50,196.96 834.50,196.78 835.50,196.64 836.50,196.60 837.50,196.60 838.50,196.60 839.50,196.60 840.50,196.68 841.50,196.90 842.50,197.20 843.50,197.98 844.50,199.73 845.50,201.97 846.50,203.82 847.50,204.90 848.50,205.60 849.50,206.30 850.50,206.82 851.50,207.00 852.50,207.00 853.50,207.00 854.50,207.00 855.50,206.61 856.50,205.43 857.50,203.87 858.50,202.57 859.50,201.82 860.50,201.35 861.50,200.88 862.50,200.53 863.50,200.45 864.50,200.50 865.50,200.55 866.50,200.60 867.50,200.65 868.50,200.70 869.50,200.75 870.50,200.81 871.50,200.88 872.50,200.97 873.50,201.05 874.50,201.13 875.50,201.22 876.50,201.38 877.50,201.70 878.50,202.10 879.50,202.50 880.50,202.89 881.50,203.26 882.50,203.62 883.50,203.98 884.50,204.34 885.50,204.56 886.50,204.52 887.50,204.34 888.50,204.16 889.50,203.98 890.50,203.89 891.50,203.98 892.50,204.16 893.50,204.34 894.50,204.52 895.50,204.74 896.50,205.04 897.50,205.38 898.50,205.72 899.50,206.06 900.50,206.34 901.50,206.49 902.50,206.58 903.50,206.67 904.50,206.76 905.50,206.85 906.50,206.94 907.50,207.03 908.50,207.12 909.50,207.21 910.50,207.23 911.50,207.12 912.50,206.94 913.50,206.76 914.50,206.58 915.50,206.30 916.50,205.83 917.50,205.27 918.50,204.73 919.50,204.25 920.50,204.06 921.50,204.40 922.50,205.00 923.50,205.61 924.50,206.25 925.50,206.90 926.50,207.55 927.50,208.13 928.50,208.56 929.50,208.92 930.50,209.28 931.50,209.64 932.50,209.94 933.50,210.10 934.50,210.20 935.50,210.30 936.50,210.40 937.50,210.50 938.50,210.60 939.50,210.70 940.50,210.73 941.50,210.61 942.50,210.42 943.50,210.23" fill="none" stroke="#b82424" stroke-width="3.0" stroke-linejoin="round" stroke-linecap="round" />
<polyline points="769.30,180.20 770.30,175.93 771.30,171.14 772.30,167.59 773.30,165.00 774.30,164.67 775.30,164.33 776.30,164.00 777.30,163.67 778.30,163.33 779.30,162.35 780.30,159.85 781.30,157.49 782.30,155.44 783.30,153.93 784.30,153.68 785.30,153.43 786.30,153.18 787.30,152.96 788.30,152.84 789.30,152.71 790.30,152.59 791.30,152.20 792.30,151.20 793.30,150.20 794.30,149.25 795.30,148.41 796.30,147.56 797.30,146.72 798.30,146.49 799.30,146.86 800.30,147.24 801.30,147.55 802.30,147.73 803.30,147.90 804.30,148.08 805.30,148.22 806.30,148.28 807.30,148.34 808.30,148.40 809.30,148.46 810.30,148.57 811.30,148.81 812.30,149.05 813.30,149.28 814.30,149.52 815.30,149.76 816.30,150.00 817.30,150.23 818.30,150.63 819.30,151.39 820.30,152.15 821.30,152.91 822.30,153.67 823.30,154.32 824.30,154.72 825.30,155.12 826.30,155.52 827.30,155.92 828.30,156.32 829.30,156.72 830.30,156.98 831.30,156.90 832.30,156.82 833.30,156.74 834.30,156.66 835.30,156.45 836.30,155.95 837.30,155.45 838.30,155.17 839.30,155.39 840.30,155.62 841.30,155.84 842.30,156.33 843.30,157.43 844.30,158.53 845.30,159.63 846.30,160.73 847.30,161.83 848.30,162.60 849.30,162.60 850.30,162.60 851.30,162.60 852.30,162.60 853.30,162.64 854.30,162.79 855.30,162.93 856.30,163.07 857.30,163.21 858.30,163.36 859.30,163.50 860.30,163.64 861.30,163.79 862.30,163.94 863.30,164.09 864.30,164.25 865.30,164.39 866.30,164.22 867.30,163.27 868.30,162.83 869.30,163.59 870.30,164.35 871.30,165.11 872.30,165.87 873.30,166.41 874.30,166.46 875.30,166.50 876.30,166.55 877.30,166.59 878.30,166.64 879.30,166.68 880.30,166.72 881.30,166.77 882.30,166.80 883.30,166.80 884.30,166.80 885.30,166.80 886.30,166.80 887.30,166.80 888.30,167.01 889.30,167.71 890.30,168.41 891.30,169.11 892.30,169.81 893.30,170.22 894.30,169.97 895.30,169.71 896.30,169.45 897.30,169.19 898.30,168.94 899.30,168.68 900.30,168.45 901.30,168.27 902.30,168.09 903.30,167.91 904.30,167.73 905.30,167.71 906.30,168.07 907.30,168.43 908.30,168.79 909.30,169.15 910.30,169.45 911.30,169.63 912.30,169.81 913.30,169.99 914.30,170.17 915.30,170.40 916.30,170.74 917.30,171.08 918.30,171.42 919.30,171.76 920.30,172.11 921.30,172.47 922.30,172.83 923.30,173.19 924.30,173.55 925.30,173.75 926.30,173.57 927.30,173.39 928.30,173.21 929.30,173.03 930.30,172.85 931.30,172.67 932.30,172.49 933.30,172.31 934.30,172.13 935.30,171.95 936.30,171.79 937.30,171.63 938.30,171.47 939.30,171.31 940.30,171.20 941.30,171.20 942.30,171.20 943.30,171.20" fill="none" stroke="#000" stroke-width="3.0" stroke-linejoin="round" stroke-linecap="round" />
</g>
<path d="M795.3,181.5 L802.8,193.8 L798.8,193.8 L798.8,233.4 L791.7,233.4 L791.7,193.8 L787.3,193.8 Z" fill="#efb63a" stroke="#5e5540" stroke-width="1.3" stroke-linejoin="round"/>
<path d="M767.2,136.0 L944.2,136.0 M767.2,136.0 L767.2,256.0 L944.2,256.0" stroke="#5a5a5a" stroke-width="1" fill="none"/>
<line x1="944.20" y1="136.00" x2="944.20" y2="256.00" stroke="#c03030" stroke-width="1" />
<line x1="767.20" y1="256.00" x2="767.20" y2="253.00" stroke="#5a5a5a" stroke-width="1" />
<line x1="767.20" y1="136.00" x2="767.20" y2="139.00" stroke="#5a5a5a" stroke-width="1" />
<text x="767.20" y="268.00" font-size="11.5" text-anchor="middle" font-weight="normal" fill="#1e1e1e" stroke="#1e1e1e" stroke-width="0.22" dominant-baseline="central" >0</text>
<line x1="826.20" y1="256.00" x2="826.20" y2="253.00" stroke="#5a5a5a" stroke-width="1" />
<line x1="826.20" y1="136.00" x2="826.20" y2="139.00" stroke="#5a5a5a" stroke-width="1" />
<text x="826.20" y="268.00" font-size="11.5" text-anchor="middle" font-weight="normal" fill="#1e1e1e" stroke="#1e1e1e" stroke-width="0.22" dominant-baseline="central" >10</text>
<line x1="885.20" y1="256.00" x2="885.20" y2="253.00" stroke="#5a5a5a" stroke-width="1" />
<line x1="885.20" y1="136.00" x2="885.20" y2="139.00" stroke="#5a5a5a" stroke-width="1" />
<text x="885.20" y="268.00" font-size="11.5" text-anchor="middle" font-weight="normal" fill="#1e1e1e" stroke="#1e1e1e" stroke-width="0.22" dominant-baseline="central" >20</text>
<line x1="944.20" y1="256.00" x2="944.20" y2="253.00" stroke="#5a5a5a" stroke-width="1" />
<line x1="944.20" y1="136.00" x2="944.20" y2="139.00" stroke="#5a5a5a" stroke-width="1" />
<text x="944.20" y="268.00" font-size="11.5" text-anchor="middle" font-weight="normal" fill="#1e1e1e" stroke="#1e1e1e" stroke-width="0.22" dominant-baseline="central" >30</text>
<line x1="767.20" y1="256.00" x2="770.20" y2="256.00" stroke="#5a5a5a" stroke-width="1" />
<text x="762.60" y="256.50" font-size="11.5" text-anchor="end" font-weight="normal" fill="#1e1e1e" stroke="#1e1e1e" stroke-width="0.22" dominant-baseline="central" >0</text>
<line x1="767.20" y1="232.00" x2="770.20" y2="232.00" stroke="#5a5a5a" stroke-width="1" />
<text x="762.60" y="232.50" font-size="11.5" text-anchor="end" font-weight="normal" fill="#1e1e1e" stroke="#1e1e1e" stroke-width="0.22" dominant-baseline="central" >0.05</text>
<line x1="767.20" y1="208.00" x2="770.20" y2="208.00" stroke="#5a5a5a" stroke-width="1" />
<text x="762.60" y="208.50" font-size="11.5" text-anchor="end" font-weight="normal" fill="#1e1e1e" stroke="#1e1e1e" stroke-width="0.22" dominant-baseline="central" >0.1</text>
<line x1="767.20" y1="184.00" x2="770.20" y2="184.00" stroke="#5a5a5a" stroke-width="1" />
<text x="762.60" y="184.50" font-size="11.5" text-anchor="end" font-weight="normal" fill="#1e1e1e" stroke="#1e1e1e" stroke-width="0.22" dominant-baseline="central" >0.15</text>
<line x1="767.20" y1="160.00" x2="770.20" y2="160.00" stroke="#5a5a5a" stroke-width="1" />
<text x="762.60" y="160.50" font-size="11.5" text-anchor="end" font-weight="normal" fill="#1e1e1e" stroke="#1e1e1e" stroke-width="0.22" dominant-baseline="central" >0.2</text>
<line x1="944.20" y1="256.00" x2="941.20" y2="256.00" stroke="#c03030" stroke-width="1" />
<text x="948.50" y="256.80" font-size="11.5" text-anchor="start" font-weight="normal" fill="#c0282d" stroke="#c0282d" stroke-width="0.22" dominant-baseline="central" >0</text>
<line x1="944.20" y1="216.00" x2="941.20" y2="216.00" stroke="#c03030" stroke-width="1" />
<text x="948.50" y="216.80" font-size="11.5" text-anchor="start" font-weight="normal" fill="#c0282d" stroke="#c0282d" stroke-width="0.22" dominant-baseline="central" >1</text>
<line x1="944.20" y1="176.00" x2="941.20" y2="176.00" stroke="#c03030" stroke-width="1" />
<text x="948.50" y="176.80" font-size="11.5" text-anchor="start" font-weight="normal" fill="#c0282d" stroke="#c0282d" stroke-width="0.22" dominant-baseline="central" >2</text>
<line x1="944.20" y1="136.00" x2="941.20" y2="136.00" stroke="#c03030" stroke-width="1" />
<text x="948.50" y="136.80" font-size="11.5" text-anchor="start" font-weight="normal" fill="#c0282d" stroke="#c0282d" stroke-width="0.22" dominant-baseline="central" >3</text>
<text x="731.50" y="198.00" font-size="13" text-anchor="middle" font-weight="bold" fill="#111" stroke="#111" stroke-width="0.15" dominant-baseline="central" transform="rotate(-90 731.50 198.00)" >PdI</text>
<text x="965.80" y="195.60" font-size="10.8" text-anchor="middle" font-weight="bold" fill="#b42a35" stroke="#b42a35" stroke-width="0.15" dominant-baseline="central" transform="rotate(-90 965.80 195.60)" textLength="30.4" lengthAdjust="spacingAndGlyphs">Span</text>
<text x="855.80" y="285.80" font-size="13" text-anchor="middle" font-weight="bold" fill="#111" stroke="#111" stroke-width="0.15" dominant-baseline="central" >time (min)</text>
<rect x="855.40" y="215.10" width="81.00" height="34.00" fill="#fff" stroke="#444" stroke-width="1"/>
<line x1="860.40" y1="224.60" x2="902.00" y2="224.60" stroke="#000" stroke-width="3.0" />
<line x1="860.40" y1="240.00" x2="902.00" y2="240.00" stroke="#b42c2c" stroke-width="3.0" />
<text x="905.70" y="225.00" font-size="10.5" text-anchor="start" font-weight="bold" fill="#111" stroke="#111" stroke-width="0.15" dominant-baseline="central" >PdI</text>
<text x="905.70" y="240.40" font-size="10.5" text-anchor="start" font-weight="bold" fill="#111" stroke="#111" stroke-width="0.15" dominant-baseline="central" >Span</text>
</svg></body></html>
